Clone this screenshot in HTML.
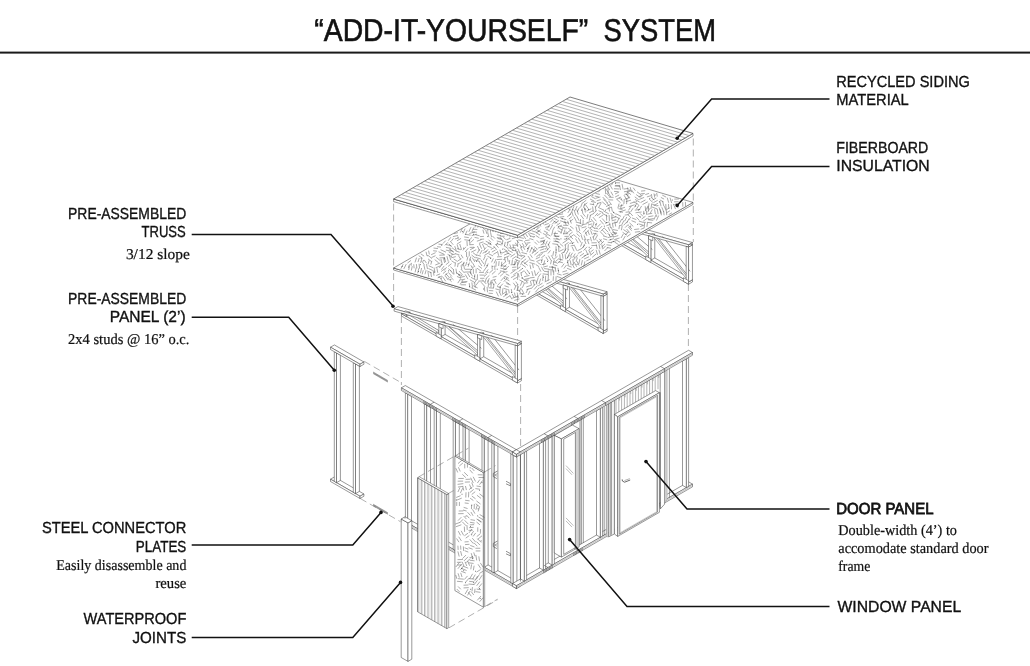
<!DOCTYPE html>
<html><head><meta charset="utf-8"><title>Add-It-Yourself System</title>
<style>
html,body{margin:0;padding:0;background:#fff;}
body{width:1030px;height:666px;overflow:hidden;position:relative;}
svg{position:absolute;left:0;top:0;display:block;will-change:transform;}
text{text-rendering:geometricPrecision;}
.s{font-family:"Liberation Sans",sans-serif;fill:#111;stroke:#111;stroke-width:0.35px;}
.t{stroke-width:0.6px;}
.b{stroke-width:0.75px;}
.f{font-family:"Liberation Serif",serif;fill:#111;stroke:#111;stroke-width:0.22px;}
</style></head><body>
<svg width="1030" height="666" viewBox="0 0 1030 666">
<polygon points="401.4,519.4 516.4,585.8 520.3,583.55 405.3,517.15" fill="#fff" stroke="#333" stroke-width="0.5"/>
<polygon points="401.4,519.4 516.4,585.8 516.4,588.5 401.4,522.1" fill="#fff" stroke="#333" stroke-width="0.5"/>
<line x1="401.4" y1="520.75" x2="516.4" y2="587.15" stroke="#666" stroke-width="0.4"/>
<polygon points="516.4,585.8 520.3,583.55 520.3,586.25 516.4,588.5" fill="#fff" stroke="#333" stroke-width="0.5"/>
<polygon points="407.6,394.08 411.5,396.33 411.5,520.73 407.6,522.98" fill="#fff" stroke="#333" stroke-width="0.5"/>
<polygon points="405.4,392.81 407.6,394.08 407.6,522.98 405.4,521.71" fill="#fff" stroke="#333" stroke-width="0.5"/>
<polygon points="426.6,405.05 430.5,407.3 430.5,531.7 426.6,533.95" fill="#fff" stroke="#333" stroke-width="0.5"/>
<polygon points="424.4,403.78 426.6,405.05 426.6,533.95 424.4,532.68" fill="#fff" stroke="#333" stroke-width="0.5"/>
<polygon points="436.4,410.71 440.3,412.96 440.3,537.36 436.4,539.61" fill="#fff" stroke="#333" stroke-width="0.5"/>
<polygon points="434.2,409.44 436.4,410.71 436.4,539.61 434.2,538.34" fill="#fff" stroke="#333" stroke-width="0.5"/>
<polygon points="455.4,421.68 459.3,423.93 459.3,548.33 455.4,550.58" fill="#fff" stroke="#333" stroke-width="0.5"/>
<polygon points="453.2,420.41 455.4,421.68 455.4,550.58 453.2,549.31" fill="#fff" stroke="#333" stroke-width="0.5"/>
<polygon points="465.2,427.34 469.1,429.59 469.1,553.99 465.2,556.24" fill="#fff" stroke="#333" stroke-width="0.5"/>
<polygon points="463,426.07 465.2,427.34 465.2,556.24 463,554.97" fill="#fff" stroke="#333" stroke-width="0.5"/>
<polygon points="484.2,438.31 488.1,440.56 488.1,564.96 484.2,567.21" fill="#fff" stroke="#333" stroke-width="0.5"/>
<polygon points="482,437.04 484.2,438.31 484.2,567.21 482,565.94" fill="#fff" stroke="#333" stroke-width="0.5"/>
<polygon points="494,443.97 497.9,446.22 497.9,570.62 494,572.87" fill="#fff" stroke="#333" stroke-width="0.5"/>
<polygon points="491.8,442.7 494,443.97 494,572.87 491.8,571.6" fill="#fff" stroke="#333" stroke-width="0.5"/>
<polygon points="513,454.94 516.9,457.19 516.9,581.59 513,583.84" fill="#fff" stroke="#333" stroke-width="0.5"/>
<polygon points="510.8,453.67 513,454.94 513,583.84 510.8,582.57" fill="#fff" stroke="#333" stroke-width="0.5"/>
<polyline points="497.5,471 493.3,473.4 493.3,476.6 496.9,478.6" fill="none" stroke="#444" stroke-width="0.6"/>
<polyline points="497.5,473.6 494.9,475 496.9,476.2" fill="none" stroke="#555" stroke-width="0.5"/>
<polyline points="497.5,541 493.3,543.4 493.3,546.6 496.9,548.6" fill="none" stroke="#444" stroke-width="0.6"/>
<polyline points="497.5,543.6 494.9,545 496.9,546.2" fill="none" stroke="#555" stroke-width="0.5"/>
<polyline points="506,481.2 510.4,483.6 510.4,485.8 506,483.8" fill="none" stroke="#444" stroke-width="0.6"/>
<polyline points="506,551.2 510.4,553.6 510.4,555.8 506,553.8" fill="none" stroke="#444" stroke-width="0.6"/>
<polygon points="516.4,585.8 692.5,484.12 688.6,481.87 512.5,583.55" fill="#fff" stroke="#333" stroke-width="0.5"/>
<polygon points="516.4,585.8 692.5,484.12 692.5,486.82 516.4,588.5" fill="#fff" stroke="#333" stroke-width="0.5"/>
<line x1="516.4" y1="587.15" x2="692.5" y2="485.47" stroke="#666" stroke-width="0.4"/>
<polygon points="516.4,585.8 512.5,583.55 512.5,586.25 516.4,588.5" fill="#fff" stroke="#333" stroke-width="0.5"/>
<polygon points="524.4,452.28 520.5,454.53 520.5,578.93 524.4,581.18" fill="#fff" stroke="#333" stroke-width="0.5"/>
<polygon points="524.4,452.28 526.6,451.01 526.6,579.91 524.4,581.18" fill="#fff" stroke="#333" stroke-width="0.5"/>
<polygon points="543.4,441.31 539.5,443.56 539.5,567.96 543.4,570.21" fill="#fff" stroke="#333" stroke-width="0.5"/>
<polygon points="543.4,441.31 545.6,440.04 545.6,568.94 543.4,570.21" fill="#fff" stroke="#333" stroke-width="0.5"/>
<polygon points="552.2,436.23 548.3,438.48 548.3,562.88 552.2,565.13" fill="#fff" stroke="#333" stroke-width="0.5"/>
<polygon points="552.2,436.23 554.4,434.96 554.4,563.86 552.2,565.13" fill="#fff" stroke="#333" stroke-width="0.5"/>
<polygon points="600.4,408.4 596.5,410.65 596.5,535.05 600.4,537.3" fill="#fff" stroke="#333" stroke-width="0.5"/>
<polygon points="600.4,408.4 602.6,407.13 602.6,536.03 600.4,537.3" fill="#fff" stroke="#333" stroke-width="0.5"/>
<polygon points="686.4,358.74 682.5,360.99 682.5,485.39 686.4,487.64" fill="#fff" stroke="#333" stroke-width="0.5"/>
<polygon points="686.4,358.74 688.6,357.47 688.6,486.37 686.4,487.64" fill="#fff" stroke="#333" stroke-width="0.5"/>
<line x1="520.4" y1="454.59" x2="520.4" y2="581.49" stroke="#333" stroke-width="0.5"/>
<polygon points="606.4,404.93 664.5,371.39 664.5,500.29 606.4,533.83" fill="#fff" stroke="#333" stroke-width="0.5"/>
<line x1="607.6" y1="404.24" x2="607.6" y2="418.84" stroke="#555" stroke-width="0.45"/>
<line x1="608.4" y1="403.78" x2="608.4" y2="406.98" stroke="#666" stroke-width="0.4"/>
<line x1="610.4" y1="402.62" x2="610.4" y2="417.22" stroke="#555" stroke-width="0.45"/>
<line x1="613.2" y1="401.01" x2="613.2" y2="415.61" stroke="#555" stroke-width="0.45"/>
<line x1="614" y1="400.55" x2="614" y2="403.75" stroke="#666" stroke-width="0.4"/>
<line x1="616" y1="399.39" x2="616" y2="413.48" stroke="#555" stroke-width="0.45"/>
<line x1="618.8" y1="397.77" x2="618.8" y2="411.86" stroke="#555" stroke-width="0.45"/>
<line x1="619.6" y1="397.31" x2="619.6" y2="400.51" stroke="#666" stroke-width="0.4"/>
<line x1="621.6" y1="396.16" x2="621.6" y2="410.24" stroke="#555" stroke-width="0.45"/>
<line x1="624.4" y1="394.54" x2="624.4" y2="408.63" stroke="#555" stroke-width="0.45"/>
<line x1="625.2" y1="394.08" x2="625.2" y2="397.28" stroke="#666" stroke-width="0.4"/>
<line x1="627.2" y1="392.92" x2="627.2" y2="407.01" stroke="#555" stroke-width="0.45"/>
<line x1="630" y1="391.31" x2="630" y2="405.39" stroke="#555" stroke-width="0.45"/>
<line x1="630.8" y1="390.85" x2="630.8" y2="394.05" stroke="#666" stroke-width="0.4"/>
<line x1="632.8" y1="389.69" x2="632.8" y2="403.78" stroke="#555" stroke-width="0.45"/>
<line x1="635.6" y1="388.07" x2="635.6" y2="402.16" stroke="#555" stroke-width="0.45"/>
<line x1="636.4" y1="387.61" x2="636.4" y2="390.81" stroke="#666" stroke-width="0.4"/>
<line x1="638.4" y1="386.46" x2="638.4" y2="400.54" stroke="#555" stroke-width="0.45"/>
<line x1="641.2" y1="384.84" x2="641.2" y2="398.93" stroke="#555" stroke-width="0.45"/>
<line x1="642" y1="384.38" x2="642" y2="387.58" stroke="#666" stroke-width="0.4"/>
<line x1="644" y1="383.22" x2="644" y2="397.31" stroke="#555" stroke-width="0.45"/>
<line x1="646.8" y1="381.61" x2="646.8" y2="395.69" stroke="#555" stroke-width="0.45"/>
<line x1="647.6" y1="381.15" x2="647.6" y2="384.35" stroke="#666" stroke-width="0.4"/>
<line x1="649.6" y1="379.99" x2="649.6" y2="394.08" stroke="#555" stroke-width="0.45"/>
<line x1="652.4" y1="378.37" x2="652.4" y2="392.46" stroke="#555" stroke-width="0.45"/>
<line x1="653.2" y1="377.91" x2="653.2" y2="381.11" stroke="#666" stroke-width="0.4"/>
<line x1="655.2" y1="376.76" x2="655.2" y2="390.84" stroke="#555" stroke-width="0.45"/>
<line x1="658" y1="375.14" x2="658" y2="389.23" stroke="#555" stroke-width="0.45"/>
<line x1="658.8" y1="374.68" x2="658.8" y2="377.88" stroke="#666" stroke-width="0.4"/>
<line x1="660.8" y1="373.52" x2="660.8" y2="387.61" stroke="#555" stroke-width="0.45"/>
<polygon points="606.4,404.93 608.7,403.61 608.7,536.81 606.4,536.93" fill="#d2d2d2" stroke="#888" stroke-width="0.35"/>
<polygon points="608.7,403.61 614.4,400.31 614.4,534 608.7,536.81" fill="#fff" stroke="#333" stroke-width="0.5"/>
<line x1="610.3" y1="402.68" x2="610.3" y2="535.48" stroke="#333" stroke-width="0.5"/>
<line x1="611.6" y1="401.93" x2="611.6" y2="534.73" stroke="#333" stroke-width="0.5"/>
<polygon points="660.2,373.87 664.6,371.33 664.6,504.13 660.2,509.07" fill="#fff" stroke="#333" stroke-width="0.5"/>
<polygon points="664.6,371.33 667.2,369.83 667.2,499.23 664.6,502.23" fill="#d2d2d2" stroke="#888" stroke-width="0.35"/>
<polygon points="614.4,414.4 655.6,390.6 659.4,392.7 617.7,416.8" fill="#fff" stroke="#333" stroke-width="0.5"/>
<polygon points="614.4,414.4 617.7,416.8 617.7,536.4 614.4,534" fill="#fff" stroke="#333" stroke-width="0.5"/>
<polygon points="617.7,416.8 659.4,392.7 659.4,512.3 617.7,536.4" fill="#fff" stroke="#333" stroke-width="0.5"/>
<line x1="660.2" y1="392.3" x2="660.2" y2="508.3" stroke="#333" stroke-width="0.5"/>
<polygon points="619.3,417.28 657.5,395.22 657.5,512.12 619.3,534.18" fill="#fff" stroke="#333" stroke-width="0.5"/>
<polygon points="620.2,417.76 656.6,396.74 656.6,511.74 620.2,532.76" fill="#fff" stroke="#777" stroke-width="0.4"/>
<polyline points="622.2,479.4 622.4,481 624.6,482.2 630.2,480" fill="none" stroke="#444" stroke-width="0.8"/>
<polyline points="624.4,480.6 629.8,478.6" fill="none" stroke="#666" stroke-width="0.5"/>
<polygon points="554.3,435.4 572.3,425 579.1,428.7 561.4,438.9" fill="#fff" stroke="#333" stroke-width="0.5"/>
<polygon points="554.3,435.4 561.4,438.9 561.4,557.1 554.3,553" fill="#fff" stroke="#333" stroke-width="0.5"/>
<polygon points="561.4,438.9 579.1,428.7 579.1,546.9 561.4,557.1" fill="#fff" stroke="#333" stroke-width="0.5"/>
<polygon points="575.5,430.96 578.5,429.23 578.5,547.03 575.5,548.76" fill="#d2d2d2" stroke="#aaa" stroke-width="0.3"/>
<polygon points="563.7,439.17 575.4,432.42 575.4,547.62 563.7,554.37" fill="#fff" stroke="#333" stroke-width="0.5"/>
<line x1="566" y1="465.6" x2="573.4" y2="473.4" stroke="#777" stroke-width="0.5"/>
<line x1="566" y1="468.6" x2="572" y2="474.8" stroke="#777" stroke-width="0.5"/>
<line x1="566" y1="517.9" x2="573.4" y2="525.7" stroke="#777" stroke-width="0.5"/>
<line x1="566" y1="520.9" x2="572" y2="527.1" stroke="#777" stroke-width="0.5"/>
<line x1="580" y1="420.18" x2="580" y2="544.58" stroke="#333" stroke-width="0.5"/>
<line x1="581.4" y1="419.37" x2="581.4" y2="543.77" stroke="#333" stroke-width="0.5"/>
<line x1="583.3" y1="418.27" x2="583.3" y2="542.67" stroke="#333" stroke-width="0.5"/>
<line x1="604.2" y1="406.2" x2="604.2" y2="535.1" stroke="#333" stroke-width="0.5"/>
<line x1="669.4" y1="368.56" x2="669.4" y2="497.46" stroke="#333" stroke-width="0.5"/>
<polygon points="401.4,387.8 516.4,454.2 520.3,451.95 405.3,385.55" fill="#fff" stroke="#333" stroke-width="0.5"/>
<polygon points="401.4,387.8 516.4,454.2 516.4,456.9 401.4,390.5" fill="#fff" stroke="#333" stroke-width="0.5"/>
<polygon points="516.4,454.2 520.3,451.95 520.3,454.65 516.4,456.9" fill="#fff" stroke="#333" stroke-width="0.5"/>
<line x1="401.4" y1="389.15" x2="516.4" y2="455.55" stroke="#666" stroke-width="0.4"/>
<polygon points="516.4,454.2 692.5,352.52 688.6,350.27 512.5,451.95" fill="#fff" stroke="#333" stroke-width="0.5"/>
<polygon points="516.4,454.2 692.5,352.52 692.5,355.22 516.4,456.9" fill="#fff" stroke="#333" stroke-width="0.5"/>
<polygon points="516.4,454.2 512.5,451.95 512.5,454.65 516.4,456.9" fill="#fff" stroke="#333" stroke-width="0.5"/>
<line x1="516.4" y1="455.55" x2="692.5" y2="353.87" stroke="#666" stroke-width="0.4"/>
<polygon points="516.4,454.2 520.3,451.95 516.4,449.7 512.5,451.95" fill="#fff" stroke="#333" stroke-width="0.5"/>
<line x1="423.9" y1="400.99" x2="423.9" y2="404.09" stroke="#444" stroke-width="0.55"/>
<line x1="425.3" y1="401.8" x2="425.3" y2="404.9" stroke="#444" stroke-width="0.55"/>
<line x1="426.7" y1="402.61" x2="426.7" y2="405.71" stroke="#444" stroke-width="0.55"/>
<line x1="428.1" y1="403.42" x2="428.1" y2="406.52" stroke="#444" stroke-width="0.55"/>
<line x1="429.5" y1="404.22" x2="429.5" y2="407.32" stroke="#444" stroke-width="0.55"/>
<line x1="430.9" y1="405.03" x2="430.9" y2="408.13" stroke="#444" stroke-width="0.55"/>
<line x1="432.3" y1="405.84" x2="432.3" y2="408.94" stroke="#444" stroke-width="0.55"/>
<line x1="433.7" y1="406.65" x2="433.7" y2="409.75" stroke="#444" stroke-width="0.55"/>
<line x1="435.1" y1="407.46" x2="435.1" y2="410.56" stroke="#444" stroke-width="0.55"/>
<line x1="436.5" y1="408.27" x2="436.5" y2="411.37" stroke="#444" stroke-width="0.55"/>
<line x1="430.2" y1="404.43" x2="434.1" y2="402.18" stroke="#333" stroke-width="0.5"/>
<line x1="452.7" y1="417.62" x2="452.7" y2="420.72" stroke="#444" stroke-width="0.55"/>
<line x1="454.1" y1="418.43" x2="454.1" y2="421.53" stroke="#444" stroke-width="0.55"/>
<line x1="455.5" y1="419.24" x2="455.5" y2="422.34" stroke="#444" stroke-width="0.55"/>
<line x1="456.9" y1="420.04" x2="456.9" y2="423.14" stroke="#444" stroke-width="0.55"/>
<line x1="458.3" y1="420.85" x2="458.3" y2="423.95" stroke="#444" stroke-width="0.55"/>
<line x1="459.7" y1="421.66" x2="459.7" y2="424.76" stroke="#444" stroke-width="0.55"/>
<line x1="461.1" y1="422.47" x2="461.1" y2="425.57" stroke="#444" stroke-width="0.55"/>
<line x1="462.5" y1="423.28" x2="462.5" y2="426.38" stroke="#444" stroke-width="0.55"/>
<line x1="463.9" y1="424.09" x2="463.9" y2="427.19" stroke="#444" stroke-width="0.55"/>
<line x1="465.3" y1="424.89" x2="465.3" y2="427.99" stroke="#444" stroke-width="0.55"/>
<line x1="459" y1="421.06" x2="462.9" y2="418.81" stroke="#333" stroke-width="0.5"/>
<line x1="481.5" y1="434.25" x2="481.5" y2="437.35" stroke="#444" stroke-width="0.55"/>
<line x1="482.9" y1="435.06" x2="482.9" y2="438.16" stroke="#444" stroke-width="0.55"/>
<line x1="484.3" y1="435.87" x2="484.3" y2="438.97" stroke="#444" stroke-width="0.55"/>
<line x1="485.7" y1="436.67" x2="485.7" y2="439.77" stroke="#444" stroke-width="0.55"/>
<line x1="487.1" y1="437.48" x2="487.1" y2="440.58" stroke="#444" stroke-width="0.55"/>
<line x1="488.5" y1="438.29" x2="488.5" y2="441.39" stroke="#444" stroke-width="0.55"/>
<line x1="489.9" y1="439.1" x2="489.9" y2="442.2" stroke="#444" stroke-width="0.55"/>
<line x1="491.3" y1="439.91" x2="491.3" y2="443.01" stroke="#444" stroke-width="0.55"/>
<line x1="492.7" y1="440.72" x2="492.7" y2="443.82" stroke="#444" stroke-width="0.55"/>
<line x1="494.1" y1="441.52" x2="494.1" y2="444.62" stroke="#444" stroke-width="0.55"/>
<line x1="487.8" y1="437.69" x2="491.7" y2="435.44" stroke="#333" stroke-width="0.5"/>
<line x1="541.7" y1="439.79" x2="541.7" y2="442.89" stroke="#444" stroke-width="0.55"/>
<line x1="543.1" y1="438.98" x2="543.1" y2="442.08" stroke="#444" stroke-width="0.55"/>
<line x1="544.5" y1="438.18" x2="544.5" y2="441.28" stroke="#444" stroke-width="0.55"/>
<line x1="545.9" y1="437.37" x2="545.9" y2="440.47" stroke="#444" stroke-width="0.55"/>
<line x1="547.3" y1="436.56" x2="547.3" y2="439.66" stroke="#444" stroke-width="0.55"/>
<line x1="548.7" y1="435.75" x2="548.7" y2="438.85" stroke="#444" stroke-width="0.55"/>
<line x1="550.1" y1="434.94" x2="550.1" y2="438.04" stroke="#444" stroke-width="0.55"/>
<line x1="551.5" y1="434.13" x2="551.5" y2="437.23" stroke="#444" stroke-width="0.55"/>
<line x1="552.9" y1="433.32" x2="552.9" y2="436.42" stroke="#444" stroke-width="0.55"/>
<line x1="554.3" y1="432.52" x2="554.3" y2="435.62" stroke="#444" stroke-width="0.55"/>
<line x1="548" y1="435.95" x2="544.1" y2="433.7" stroke="#333" stroke-width="0.5"/>
<line x1="543.8" y1="570.18" x2="543.8" y2="573.28" stroke="#444" stroke-width="0.55"/>
<line x1="545.2" y1="569.37" x2="545.2" y2="572.47" stroke="#444" stroke-width="0.55"/>
<line x1="546.6" y1="568.56" x2="546.6" y2="571.66" stroke="#444" stroke-width="0.55"/>
<line x1="548" y1="567.75" x2="548" y2="570.85" stroke="#444" stroke-width="0.55"/>
<line x1="549.4" y1="566.95" x2="549.4" y2="570.05" stroke="#444" stroke-width="0.55"/>
<line x1="550.8" y1="566.14" x2="550.8" y2="569.24" stroke="#444" stroke-width="0.55"/>
<line x1="552.2" y1="565.33" x2="552.2" y2="568.43" stroke="#444" stroke-width="0.55"/>
<line x1="548" y1="567.55" x2="544.1" y2="565.3" stroke="#333" stroke-width="0.5"/>
<line x1="571.7" y1="422.47" x2="571.7" y2="425.57" stroke="#444" stroke-width="0.55"/>
<line x1="573.1" y1="421.66" x2="573.1" y2="424.76" stroke="#444" stroke-width="0.55"/>
<line x1="574.5" y1="420.85" x2="574.5" y2="423.95" stroke="#444" stroke-width="0.55"/>
<line x1="575.9" y1="420.04" x2="575.9" y2="423.14" stroke="#444" stroke-width="0.55"/>
<line x1="577.3" y1="419.24" x2="577.3" y2="422.34" stroke="#444" stroke-width="0.55"/>
<line x1="578.7" y1="418.43" x2="578.7" y2="421.53" stroke="#444" stroke-width="0.55"/>
<line x1="580.1" y1="417.62" x2="580.1" y2="420.72" stroke="#444" stroke-width="0.55"/>
<line x1="581.5" y1="416.81" x2="581.5" y2="419.91" stroke="#444" stroke-width="0.55"/>
<line x1="582.9" y1="416" x2="582.9" y2="419.1" stroke="#444" stroke-width="0.55"/>
<line x1="584.3" y1="415.19" x2="584.3" y2="418.29" stroke="#444" stroke-width="0.55"/>
<line x1="578" y1="418.63" x2="574.1" y2="416.38" stroke="#333" stroke-width="0.5"/>
<line x1="573.8" y1="552.86" x2="573.8" y2="555.96" stroke="#444" stroke-width="0.55"/>
<line x1="575.2" y1="552.05" x2="575.2" y2="555.15" stroke="#444" stroke-width="0.55"/>
<line x1="576.6" y1="551.24" x2="576.6" y2="554.34" stroke="#444" stroke-width="0.55"/>
<line x1="578" y1="550.43" x2="578" y2="553.53" stroke="#444" stroke-width="0.55"/>
<line x1="579.4" y1="549.62" x2="579.4" y2="552.72" stroke="#444" stroke-width="0.55"/>
<line x1="580.8" y1="548.82" x2="580.8" y2="551.92" stroke="#444" stroke-width="0.55"/>
<line x1="582.2" y1="548.01" x2="582.2" y2="551.11" stroke="#444" stroke-width="0.55"/>
<line x1="578" y1="550.23" x2="574.1" y2="547.98" stroke="#333" stroke-width="0.5"/>
<line x1="605.5" y1="402.75" x2="601.6" y2="400.5" stroke="#333" stroke-width="0.5"/>
<line x1="605.5" y1="402.75" x2="605.5" y2="405.45" stroke="#333" stroke-width="0.5"/>
<line x1="664.5" y1="368.69" x2="660.6" y2="366.44" stroke="#333" stroke-width="0.5"/>
<line x1="664.5" y1="368.69" x2="664.5" y2="371.39" stroke="#333" stroke-width="0.5"/>
<polygon points="688.54,284.25 688.54,281.95 692.44,279.7 692.44,282" fill="#fff" stroke="#333" stroke-width="0.5"/>
<polygon points="688.54,281.95 572.49,214.95 576.39,212.7 692.44,279.7" fill="#fff" stroke="#333" stroke-width="0.5"/>
<polygon points="688.54,247.05 688.54,244.75 692.44,242.5 692.44,244.8" fill="#fff" stroke="#333" stroke-width="0.5"/>
<polygon points="688.54,244.75 565.13,210.05 569.03,207.8 692.44,242.5" fill="#fff" stroke="#333" stroke-width="0.5"/>
<polygon points="612.24,237.9 612.24,225.6 616.14,223.35 616.14,235.65" fill="#fff" stroke="#333" stroke-width="0.5"/>
<polygon points="612.24,225.6 609.9,224.94 613.8,222.69 616.14,223.35" fill="#fff" stroke="#333" stroke-width="0.5"/>
<polygon points="650.87,260.2 650.87,236.46 654.77,234.21 654.77,257.95" fill="#fff" stroke="#333" stroke-width="0.5"/>
<polygon points="650.87,236.46 648.53,235.8 652.43,233.55 654.77,234.21" fill="#fff" stroke="#333" stroke-width="0.5"/>
<polygon points="688.54,281.95 688.54,247.05 692.44,244.8 692.44,279.7" fill="#fff" stroke="#333" stroke-width="0.5"/>
<polygon points="688.54,247.05 686.2,246.39 690.1,244.14 692.44,244.8" fill="#fff" stroke="#333" stroke-width="0.5"/>
<polygon points="577.26,217.7 577.26,215.76 581.15,213.51 581.15,215.45" fill="#fff" stroke="#333" stroke-width="0.5"/>
<polygon points="577.26,215.76 572.49,214.42 576.39,212.17 581.15,213.51" fill="#fff" stroke="#333" stroke-width="0.5"/>
<line x1="623.93" y1="225.54" x2="652.43" y2="249.6" stroke="#333" stroke-width="0.5"/>
<line x1="662.56" y1="236.4" x2="690.1" y2="271.35" stroke="#333" stroke-width="0.5"/>
<polygon points="579.64,215.89 609.69,234.17 609.74,231.81 579.69,213.52" fill="#fff" stroke="#333" stroke-width="0.45"/>
<polygon points="614.62,225.72 648.31,256.47 648.89,254.51 615.2,223.75" fill="#fff" stroke="#333" stroke-width="0.45"/>
<polygon points="653.25,236.58 685.99,278.22 687.06,276.79 654.32,235.14" fill="#fff" stroke="#333" stroke-width="0.45"/>
<polygon points="572.49,217.25 688.54,284.25 688.54,281.95 572.49,214.95" fill="#fff" stroke="#333" stroke-width="0.5"/>
<polygon points="565.13,212.35 688.54,247.05 688.54,244.75 565.13,210.05" fill="#fff" stroke="#333" stroke-width="0.5"/>
<polygon points="609.9,236.55 612.24,237.9 612.24,225.6 609.9,224.94" fill="#fff" stroke="#333" stroke-width="0.5"/>
<polygon points="648.53,258.85 650.87,260.2 650.87,236.46 648.53,235.8" fill="#fff" stroke="#333" stroke-width="0.5"/>
<polygon points="686.2,280.6 688.54,281.95 688.54,247.05 686.2,246.39" fill="#fff" stroke="#333" stroke-width="0.5"/>
<polygon points="572.49,214.95 577.26,217.7 577.26,215.76 572.49,214.42" fill="#fff" stroke="#333" stroke-width="0.5"/>
<line x1="620.04" y1="227.79" x2="648.53" y2="251.85" stroke="#333" stroke-width="0.5"/>
<line x1="658.66" y1="238.65" x2="686.2" y2="273.6" stroke="#333" stroke-width="0.5"/>
<polygon points="607.13,237.25 612.24,240.2 612.24,236.6 607.13,233.65" fill="#fff" stroke="#333" stroke-width="0.5"/>
<polygon points="609.9,228.14 614.15,229.9 614.15,226.13 609.9,224.94" fill="#fff" stroke="#333" stroke-width="0.5"/>
<polygon points="645.76,259.55 650.87,262.5 650.87,258.9 645.76,255.95" fill="#fff" stroke="#333" stroke-width="0.5"/>
<polygon points="648.53,239 652.77,240.76 652.77,236.99 648.53,235.8" fill="#fff" stroke="#333" stroke-width="0.5"/>
<polygon points="683.43,281.3 688.54,284.25 688.54,280.65 683.43,277.7" fill="#fff" stroke="#333" stroke-width="0.5"/>
<polygon points="603.24,333.5 603.24,331.2 607.13,328.95 607.13,331.25" fill="#fff" stroke="#333" stroke-width="0.5"/>
<polygon points="603.24,331.2 487.19,264.2 491.09,261.95 607.13,328.95" fill="#fff" stroke="#333" stroke-width="0.5"/>
<polygon points="603.24,296.3 603.24,294 607.13,291.75 607.13,294.05" fill="#fff" stroke="#333" stroke-width="0.5"/>
<polygon points="603.24,294 479.83,259.3 483.73,257.05 607.13,291.75" fill="#fff" stroke="#333" stroke-width="0.5"/>
<polygon points="526.94,287.15 526.94,274.85 530.84,272.6 530.84,284.9" fill="#fff" stroke="#333" stroke-width="0.5"/>
<polygon points="526.94,274.85 524.6,274.19 528.5,271.94 530.84,272.6" fill="#fff" stroke="#333" stroke-width="0.5"/>
<polygon points="565.56,309.45 565.56,285.71 569.46,283.46 569.46,307.2" fill="#fff" stroke="#333" stroke-width="0.5"/>
<polygon points="565.56,285.71 563.23,285.05 567.12,282.8 569.46,283.46" fill="#fff" stroke="#333" stroke-width="0.5"/>
<polygon points="603.24,331.2 603.24,296.3 607.13,294.05 607.13,328.95" fill="#fff" stroke="#333" stroke-width="0.5"/>
<polygon points="603.24,296.3 600.9,295.64 604.8,293.39 607.13,294.05" fill="#fff" stroke="#333" stroke-width="0.5"/>
<polygon points="491.95,266.95 491.95,265.01 495.85,262.76 495.85,264.7" fill="#fff" stroke="#333" stroke-width="0.5"/>
<polygon points="491.95,265.01 487.19,263.67 491.09,261.42 495.85,262.76" fill="#fff" stroke="#333" stroke-width="0.5"/>
<line x1="538.63" y1="274.79" x2="567.12" y2="298.85" stroke="#333" stroke-width="0.5"/>
<line x1="577.26" y1="285.65" x2="604.8" y2="320.6" stroke="#333" stroke-width="0.5"/>
<polygon points="494.33,265.14 524.38,283.43 524.44,281.06 494.39,262.77" fill="#fff" stroke="#333" stroke-width="0.45"/>
<polygon points="529.32,274.97 563.01,305.72 563.59,303.76 529.9,273" fill="#fff" stroke="#333" stroke-width="0.45"/>
<polygon points="567.95,285.83 600.68,327.47 601.75,326.04 569.02,284.39" fill="#fff" stroke="#333" stroke-width="0.45"/>
<polygon points="487.19,266.5 603.24,333.5 603.24,331.2 487.19,264.2" fill="#fff" stroke="#333" stroke-width="0.5"/>
<polygon points="479.83,261.6 603.24,296.3 603.24,294 479.83,259.3" fill="#fff" stroke="#333" stroke-width="0.5"/>
<polygon points="524.6,285.8 526.94,287.15 526.94,274.85 524.6,274.19" fill="#fff" stroke="#333" stroke-width="0.5"/>
<polygon points="563.23,308.1 565.56,309.45 565.56,285.71 563.23,285.05" fill="#fff" stroke="#333" stroke-width="0.5"/>
<polygon points="600.9,329.85 603.24,331.2 603.24,296.3 600.9,295.64" fill="#fff" stroke="#333" stroke-width="0.5"/>
<polygon points="487.19,264.2 491.95,266.95 491.95,265.01 487.19,263.67" fill="#fff" stroke="#333" stroke-width="0.5"/>
<line x1="534.73" y1="277.04" x2="563.23" y2="301.1" stroke="#333" stroke-width="0.5"/>
<line x1="573.36" y1="287.9" x2="600.9" y2="322.85" stroke="#333" stroke-width="0.5"/>
<polygon points="521.83,286.5 526.94,289.45 526.94,285.85 521.83,282.9" fill="#fff" stroke="#333" stroke-width="0.5"/>
<polygon points="524.6,277.39 528.84,279.15 528.84,275.38 524.6,274.19" fill="#fff" stroke="#333" stroke-width="0.5"/>
<polygon points="560.45,308.8 565.56,311.75 565.56,308.15 560.45,305.2" fill="#fff" stroke="#333" stroke-width="0.5"/>
<polygon points="563.23,288.25 567.47,290.01 567.47,286.24 563.23,285.05" fill="#fff" stroke="#333" stroke-width="0.5"/>
<polygon points="598.13,330.55 603.24,333.5 603.24,329.9 598.13,326.95" fill="#fff" stroke="#333" stroke-width="0.5"/>
<polygon points="517.5,383 517.5,380.7 521.4,378.45 521.4,380.75" fill="#fff" stroke="#333" stroke-width="0.5"/>
<polygon points="517.5,380.7 401.45,313.7 405.35,311.45 521.4,378.45" fill="#fff" stroke="#333" stroke-width="0.5"/>
<polygon points="517.5,345.8 517.5,343.5 521.4,341.25 521.4,343.55" fill="#fff" stroke="#333" stroke-width="0.5"/>
<polygon points="517.5,343.5 394.09,308.8 397.99,306.55 521.4,341.25" fill="#fff" stroke="#333" stroke-width="0.5"/>
<polygon points="441.2,336.65 441.2,324.35 445.1,322.1 445.1,334.4" fill="#fff" stroke="#333" stroke-width="0.5"/>
<polygon points="441.2,324.35 438.86,323.69 442.76,321.44 445.1,322.1" fill="#fff" stroke="#333" stroke-width="0.5"/>
<polygon points="479.83,358.95 479.83,335.21 483.73,332.96 483.73,356.7" fill="#fff" stroke="#333" stroke-width="0.5"/>
<polygon points="479.83,335.21 477.49,334.55 481.39,332.3 483.73,332.96" fill="#fff" stroke="#333" stroke-width="0.5"/>
<polygon points="517.5,380.7 517.5,345.8 521.4,343.55 521.4,378.45" fill="#fff" stroke="#333" stroke-width="0.5"/>
<polygon points="517.5,345.8 515.16,345.14 519.06,342.89 521.4,343.55" fill="#fff" stroke="#333" stroke-width="0.5"/>
<polygon points="406.22,316.45 406.22,314.51 410.11,312.26 410.11,314.2" fill="#fff" stroke="#333" stroke-width="0.5"/>
<polygon points="406.22,314.51 401.45,313.17 405.35,310.92 410.11,312.26" fill="#fff" stroke="#333" stroke-width="0.5"/>
<line x1="452.89" y1="324.29" x2="481.39" y2="348.35" stroke="#333" stroke-width="0.5"/>
<line x1="491.52" y1="335.15" x2="519.06" y2="370.1" stroke="#333" stroke-width="0.5"/>
<polygon points="408.6,314.64 438.65,332.93 438.7,330.56 408.65,312.27" fill="#fff" stroke="#333" stroke-width="0.45"/>
<polygon points="443.58,324.47 477.27,355.22 477.85,353.26 444.16,322.5" fill="#fff" stroke="#333" stroke-width="0.45"/>
<polygon points="482.21,335.33 514.95,376.97 516.02,375.54 483.28,333.89" fill="#fff" stroke="#333" stroke-width="0.45"/>
<polygon points="401.45,316 517.5,383 517.5,380.7 401.45,313.7" fill="#fff" stroke="#333" stroke-width="0.5"/>
<polygon points="394.09,311.1 517.5,345.8 517.5,343.5 394.09,308.8" fill="#fff" stroke="#333" stroke-width="0.5"/>
<polygon points="438.86,335.3 441.2,336.65 441.2,324.35 438.86,323.69" fill="#fff" stroke="#333" stroke-width="0.5"/>
<polygon points="477.49,357.6 479.83,358.95 479.83,335.21 477.49,334.55" fill="#fff" stroke="#333" stroke-width="0.5"/>
<polygon points="515.16,379.35 517.5,380.7 517.5,345.8 515.16,345.14" fill="#fff" stroke="#333" stroke-width="0.5"/>
<polygon points="401.45,313.7 406.22,316.45 406.22,314.51 401.45,313.17" fill="#fff" stroke="#333" stroke-width="0.5"/>
<line x1="449" y1="326.54" x2="477.49" y2="350.6" stroke="#333" stroke-width="0.5"/>
<line x1="487.62" y1="337.4" x2="515.16" y2="372.35" stroke="#333" stroke-width="0.5"/>
<polygon points="436.09,336 441.2,338.95 441.2,335.35 436.09,332.4" fill="#fff" stroke="#333" stroke-width="0.5"/>
<polygon points="438.86,326.89 443.11,328.65 443.11,324.88 438.86,323.69" fill="#fff" stroke="#333" stroke-width="0.5"/>
<polygon points="474.72,358.3 479.83,361.25 479.83,357.65 474.72,354.7" fill="#fff" stroke="#333" stroke-width="0.5"/>
<polygon points="477.49,337.75 481.73,339.51 481.73,335.74 477.49,334.55" fill="#fff" stroke="#333" stroke-width="0.5"/>
<polygon points="512.39,380.05 517.5,383 517.5,379.4 512.39,376.45" fill="#fff" stroke="#333" stroke-width="0.5"/>
<polygon points="393.6,268 517.6,304.2 517.6,306.2 393.6,270" fill="#fff" stroke="#333" stroke-width="0.5"/>
<polygon points="517.6,304.2 693,202.4 693,204.4 517.6,306.2" fill="#fff" stroke="#333" stroke-width="0.5"/>
<line x1="393.6" y1="268" x2="517.6" y2="304.2" stroke="#333" stroke-width="0.5"/>
<polygon points="393.6,268 570,166 693,202.4 517.6,304.2" fill="#fff" stroke="#333" stroke-width="0.5"/>
<path d="M406.28 264.11l-2.48 4.82M403.18 264.24l-2.28 4.44M412.26 266.11l-0.93 4.46M409.61 265.57l-0.93 4.45M421.62 268l-1.2 5.28M418.8 268.24l-1.14 5.04M416.16 267.68l-1.06 4.68M426.13 270.12l-1.15 4.17M423.28 270.27l-1.12 4.08M433.15 270.35l0.87 5.38M430.68 271.95l0.82 5.06M427.96 272.03l0.8 4.92M442.03 276.03l-4.28 1.76M440.14 273.89l-3.87 1.6M445.23 275.74l2.99 4.38M442.47 276.48l3.25 4.78M439.98 277.63l3.11 4.56M450.02 276.43l3.6 3.55M447.96 278.2l3.7 3.64M462.92 280.14l-2.78 4.3M460.61 278.75l-2.82 4.36M461.79 282.07l4.71 0.06M460.69 284.76l5.3 0.07M474.6 282.62l0.7 5.12M471.85 282.39l0.74 5.4M469.21 283.02l0.65 4.74M473.24 285.7l4.43 2.28M471.27 287.72l4.76 2.45M487.09 286.94l0.43 5.3M484.35 286.58l0.39 4.85M488.62 287.78l5.08 0.37M488.85 290.5l4.44 0.32M488.58 293.19l4.23 0.31M499.17 291.49l2.07 4.24M496.23 291.64l2.3 4.72M510.11 295.64l-4.45 2.86M508.18 293.67l-4.94 3.17M506.39 291.62l-4.43 2.84M512.15 293.92l1.93 3.76M509.92 295.47l1.93 3.77M519.48 298.88l-5.26 1.54M517.52 296.64l-5.4 1.58M412.02 262.97l-3.53 2.75M410.98 260.36l-3.54 2.76M419.08 263.76l0.52 4.79M416.4 264.09l0.46 4.18M413.71 264.31l0.43 3.97M426.49 264.13l1.04 4.93M423.88 264.83l1.04 4.91M428.73 265.76l4.34 1.9M428.39 268.56l4.19 1.83M427.29 271.02l4.26 1.86M436.9 268.21l0.87 4.54M434.01 267.46l0.96 5.06M447.63 273.18l-2.9 2.45M446.14 270.89l-3.19 2.7M444.64 268.63l-3.51 2.97M450.24 270.35l3.47 4.12M448.42 272.39l3.43 4.07M446.83 274.68l2.99 3.55M457.69 273.78l4.44 2.04M456.94 276.4l4 1.84M467.36 281.43l-5.42 1.04M465.18 279.1l-4.69 0.9M464.8 276.42l-4.89 0.94M471.02 277.32l4.78 2.66M469.82 279.74l4.43 2.46M478.67 281.68l-2.76 3.72M477.18 279.16l-3.05 4.11M482.33 279.67l3.86 4.26M480.98 282.2l3.94 4.35M494.01 283.73l-0.52 4.48M491.48 282.07l-0.59 5.14M488.69 282.68l-0.52 4.46M496.96 286.48l4.05 1.09M495.4 288.85l4.14 1.11M502.87 288.35l-0.44 5.18M500.32 286.46l-0.51 6M511.26 288.99l0.67 3.87M508.57 289.3l0.67 3.87M506 290.26l0.75 4.38M517.2 292.52l1.15 5.32M514.45 292.59l0.98 4.51M526.07 296.3l-5.49 0.18M524.48 293.65l-5.26 0.17M421.81 258.9l-1.29 4.01M419.27 258l-1.32 4.12M416.55 257.62l-1.54 4.8M424.21 259.88l2.25 3.3M421.77 261.09l2.57 3.76M431.85 260.84l-1.06 3.78M429.17 260.41l-1.13 4.04M440.53 265.82l-4.86 1.94M440.25 263.03l-5 1.99M446.58 267.18l-2.57 3.51M444.19 265.87l-2.74 3.74M441.96 264.35l-2.61 3.57M450.41 266.79l3.47 3.06M448.49 268.7l3.12 2.75M455.95 268.67l0.71 5.21M453.35 269.55l0.64 4.67M460.84 269.04l3.63 4M459.01 271.05l3.78 4.17M456.58 272.38l3.83 4.23M469.94 271.78l2.67 4.57M467.52 273l2.37 4.06M465.22 274.41l2.73 4.67M477.53 274.34l-0.28 5.33M474.83 274.22l-0.24 4.6M483.52 280.98l-5.15 0.09M484.39 278.27l-4.27 0.07M491.41 280.17l-1.62 4.83M489.22 278.21l-1.69 5.03M486.38 278.18l-1.39 4.13M494.3 280.07l1.95 3.66M491.91 281.32l1.99 3.72M502.94 283.66l-3.55 3.79M500.53 282.28l-3.1 3.3M506.46 283.56l4.08 1.35M504.47 285.74l4.33 1.43M503.57 288.29l4.2 1.39M521.1 287.57l-1.77 4.07M518.7 286.31l-1.95 4.47M516.26 285.16l-2.03 4.66M521.39 288.73l2.2 4.11M518.85 289.72l2 3.74M530.02 290.92l-1.93 3.99M528.16 288.58l-2.1 4.36M420.68 253.77l3.47 2.4M418.71 255.68l3.86 2.67M428.49 255.8l3.48 2.7M428.04 258.87l3.35 2.6M436.17 257.34l4.37 3.52M434.69 259.61l4.05 3.27M443.53 258.14l1.17 4.87M440.94 258.94l1.41 5.89M451.55 263.63l-3.53 2.86M449.34 261.94l-3.56 2.88M458.21 262.97l-0.68 4.15M455.58 262.33l-0.7 4.28M463.65 264.76l0.92 4.61M461.03 265.43l0.79 3.98M470.4 271.96l-5.99 0.07M470.24 269.26l-5.2 0.06M476.09 268.48l0.03 4.77M473.39 268.96l0.03 4.93M470.69 268.91l0.03 5.29M478.98 272.34l4.86 0.1M479.6 275.05l4.99 0.11M489.38 275.34l-3.21 3.01M487.17 273.7l-3.13 2.93M495.86 279.3l-3.97 0.99M496.6 276.33l-3.89 0.97M507.18 277.87l-3.4 3.8M504.75 276.53l-3.86 4.3M505.82 278.79l3.6 2.12M505.5 281.74l3.72 2.19M515.72 281.55l2.25 3.28M513.28 282.77l2.38 3.48M524.23 283.47l-1.92 4.37M522.23 281.3l-1.93 4.39M531.38 288.12l-4.87 1.61M530.88 285.44l-4.67 1.54M539.19 287.67l-3.85 4.6M537.46 285.52l-3.29 3.94M535.21 284.01l-3.86 4.61M428.55 250.65l0.84 3.77M426.04 251.78l0.9 4.04M435.57 255.66l-3.83 1.78M435.59 252.67l-4.46 2.08M444.52 257.64l-5.04 0.31M444.88 254.91l-5.55 0.34M449.3 254.74l1.41 5.28M446.88 256.14l1.48 5.54M444.35 257.11l1.34 5M453.62 258.91l3.7 2.44M451.46 260.72l3.56 2.35M464.74 262.82l-3.53 2.42M462.19 261.29l-3.73 2.56M461.3 258.63l-3.85 2.65M469.47 262.53l-1.38 4.21M466.87 261.81l-1.4 4.3M464.02 261.85l-1.42 4.35M472.79 263.18l2.18 3.97M470.82 265.21l2 3.63M478.32 265.79l3.61 2.68M476.94 268.12l4 2.97M488.22 269.33l-3.15 4.46M486.69 266.81l-3.38 4.8M495.62 271.03l-3.69 3.32M493.17 269.6l-3.71 3.34M503.38 273.45l-3.25 2.81M500.99 271.95l-2.86 2.47M505.72 273.88l3.54 1.75M504.53 276.3l4.14 2.04M517.42 277.13l-4.36 2.44M515.66 275.02l-4.72 2.64M521.06 277.7l4.11 2.27M519.38 279.85l4.47 2.46M528.13 282.79l-4.42 0.41M528.76 280.02l-4.5 0.42M535.81 280.31l1.08 4.23M533.26 281.25l1.04 4.05M530.35 280.75l1.24 4.83M543.73 285.56l-4.04 2.58M542.49 283.15l-4.34 2.77M433.54 248.03l4.48 0.58M433.18 250.71l3.81 0.49M440.59 249.72l5.43 2.47M438.59 251.78l5.61 2.56M449.01 248.93l4.6 2.63M448.73 251.88l4.4 2.51M447.52 254.31l4.52 2.58M455.82 256.62l-4.55 1.17M455.51 253.91l-4.51 1.16M461.04 254.7l2.06 3.44M458.39 255.52l2.33 3.87M470.76 256.54l-1.21 4.71M468.01 256.42l-1.09 4.24M472.24 257.6l2.55 4.34M469.78 258.75l2.59 4.41M481.02 259.76l2.76 4.14M479.09 261.74l2.84 4.26M488.18 263.45l-1.4 3.79M485.59 262.67l-1.4 3.79M494.64 265.62l0.34 4.34M491.92 265.57l0.3 3.75M500.82 265.52l5.43 0.97M500.39 268.18l5.36 0.96M499.96 270.85l4.94 0.88M507.48 271.54l-4.39 1.25M507.04 268.86l-3.73 1.06M517.51 272.04l-4.17 2.77M514.82 270.58l-4.26 2.83M520.87 272.34l0.78 3.87M518.32 273.37l0.8 3.95M530.16 278.05l-5.08 1.22M529.4 275.45l-5.34 1.28M535.21 280l-3.93 0.43M534.6 277.35l-4.56 0.5M540.75 278.6l-1.78 5.4M538.22 277.65l-1.88 5.72M551.8 281.53l-5.4 2.59M549.56 279.62l-4.85 2.33M438.48 244.14l4.12 0.43M437.1 246.71l3.82 0.4M445.8 244.54l5.64 1.18M445.94 247.33l5.31 1.11M445.87 250.07l5.42 1.14M452.03 247.77l3.6 2.67M450.14 249.73l3.61 2.68M456.85 248.49l4.16 1.32M455.66 250.94l4 1.27M455.02 253.57l4.43 1.41M469.29 251.31l-0.06 4.93M466.58 251.72l-0.06 5.34M472.88 252.56l3.81 3.08M471.54 254.95l3.68 2.98M476.03 254.71l5.04 1.56M475.29 257.31l5.42 1.68M474.3 259.82l5.55 1.72M487.26 258.2l-2.04 4.47M485.34 255.9l-1.94 4.24M496.11 259.05l-2.14 4.33M493.4 258.43l-1.91 3.87M501.77 261.78l-0.5 5.02M499.12 261.12l-0.48 4.8M496.38 261.38l-0.54 5.39M508.88 266.17l-3.49 3.01M506.63 264.55l-3.39 2.93M505.48 261.98l-3.58 3.09M516.3 269.77l-4.25 0.34M516.41 267.05l-4.28 0.34M515.44 264.42l-4.83 0.38M524.32 270.51l-3.34 2.51M521.95 268.91l-3.47 2.61M520.44 266.67l-3.62 2.72M526.74 269.64l2.54 3.41M524.56 271.23l2.83 3.8M534.36 270.34l1.36 5.36M531.78 271.15l1.27 5.04M540.79 273.58l-2.77 3.8M538.88 271.62l-2.85 3.91M548.44 274.84l-0.32 5.66M545.68 275.8l-0.31 5.34M543.03 274.82l-0.35 6.05M556.13 276.24l-0.3 5M553.43 276.22l-0.29 4.77M447.88 242.29l-2.99 3.14M445.74 240.61l-2.81 2.95M450.27 241.24l3.01 3.51M448.87 243.76l2.86 3.33M459.73 243.99l1.88 5.81M457.04 244.47l1.58 4.88M454.72 246.07l1.54 4.77M468.27 248.2l-3.18 3.83M465.9 246.83l-2.95 3.55M476.19 249.68l-5.09 2.58M474.72 247.4l-4.58 2.32M482.19 249.95l-2.32 4.4M479.56 249.15l-2.18 4.14M489.14 252.57l-4.85 2.91M486.66 250.91l-4.03 2.42M488.87 253.9l4.22 2.03M487.51 256.24l3.89 1.87M502.2 259.24l-5.42 0.39M501.76 256.56l-4.75 0.34M507.34 257.24l0.89 4.56M504.63 257.42l0.95 4.84M515.06 260.74l-0.51 4.09M512.45 259.87l-0.53 4.27M509.69 260.11l-0.5 4M522.48 260.99l-1.9 4.14M519.77 260.41l-2.35 5.12M517.06 259.85l-1.93 4.19M523.46 262.06l4.27 3.38M521.98 264.34l3.93 3.11M532.53 263.86l0.87 4.2M529.96 264.78l0.91 4.4M541.42 266.75l2.29 4.32M538.69 267.36l2.27 4.29M544.11 268.56l4.98 0.63M544.01 271.26l4.47 0.57M542.73 273.82l5.25 0.66M553.69 270.19l-0.01 5.16M550.99 270.32l-0.01 5.13M548.29 270.51l-0.01 4.7M556.93 273.61l4.67 1.54M556.91 276.44l4.57 1.51M453.44 238.35l-2.41 3.11M450.96 237.15l-2.75 3.54M461.27 241.4l-4.18 2.57M461.06 238.36l-4.13 2.53M469.52 239.59l0.38 4.89M466.92 241.01l0.39 5.05M474.1 247.24l-4.42 0.19M473.79 244.55l-4.52 0.19M482.38 243.86l2.22 4.96M479.43 243.89l2.17 4.85M477.42 246l2.1 4.67M488.1 249.35l-2.78 3.42M486.19 247.42l-2.6 3.2M497.01 252.23l-3.73 2.13M495.61 249.92l-3.81 2.18M494.73 247.31l-3.91 2.23M499.9 249.76l1.27 4.83M497.4 250.88l1.29 4.9M509.37 255.78l-5.2 2.26M508.96 253.01l-5.01 2.18M507.01 250.92l-4.95 2.15M516.14 256.34l-4 2.77M515.13 253.75l-4.62 3.19M517.99 254.7l4.19 1.98M516.22 256.85l4.18 1.98M515.1 259.31l3.96 1.88M528.45 260.45l-4.41 3.47M526.15 258.82l-4.27 3.36M524.97 256.31l-4.07 3.21M529.35 259.66l5.14 1.45M529.47 262.5l5.49 1.55M537.51 262.41l3.37 2.28M535.67 264.42l3.43 2.32M547.87 265.92l-4.68 1.16M545.92 263.62l-4.19 1.04M549 266.95l4.49 0.29M548.54 269.62l4.14 0.27M557.92 267.83l0.84 4.96M555.02 266.85l0.83 4.9M552.4 267.6l0.8 4.76M568.43 273.01l-5.65 1.64M567.09 270.58l-4.7 1.37M459.02 237.94l-4.22 1.07M457.98 235.42l-5.06 1.28M457.98 232.63l-4.09 1.04M464.97 234.32l5.66 0.84M464.12 236.93l4.7 0.7M464.38 239.69l5.6 0.83M473.93 239.32l-3.4 3.24M472.06 237.37l-3.4 3.23M483.37 241.81l-4.38 1.54M481.47 239.62l-4.58 1.61M485.69 241.2l4.87 2.29M483.4 243.11l4.52 2.12M487.98 243.38l3.66 1.39M487.53 246.1l4.11 1.56M495.47 244.17l3.04 3.47M493.46 245.97l3.32 3.79M504.12 245.61l4.45 3.48M503.68 248.7l4.15 3.24M508.57 247.3l4.99 2.79M507.74 249.93l4.85 2.71M506.55 252.36l4.78 2.67M517.87 248.7l2.36 5.01M515.47 249.95l2.16 4.58M521.52 252.5l5.56 1.41M520.36 254.99l4.83 1.23M530.07 254.32l2.35 3.42M527.93 255.98l2.16 3.14M540.51 259.78l-4.12 1.87M539.75 257.16l-4.03 1.83M544.74 260.33l-1.2 5M542.36 258.67l-1.05 4.38M554.31 260.05l-1.14 4.66M551.48 260.28l-0.97 3.96M553.04 261.75l4 1.14M553.5 264.69l3.79 1.08M551.34 266.87l4.42 1.26M566.45 265.08l-2.56 3.47M564.19 263.58l-2.74 3.71M567.4 265.47l4.29 1.72M566.93 268.19l4.53 1.82M467.16 230.61l-1.96 4.35M465.08 228.65l-2.14 4.75M462.24 228.39l-1.88 4.17M476.83 234.19l-5.18 1.46M474.95 231.91l-5.66 1.59M475.56 234.81l4.06 0.9M474.51 237.35l4.23 0.93M484.12 239.07l-3.96 0.25M483.89 236.38l-3.97 0.25M492.41 235.98l2.64 2.65M490.26 237.65l2.84 2.85M488.5 239.71l2.65 2.66M497.59 238.37l4.34 1.18M496.76 240.94l4.52 1.23M496.48 243.66l4.51 1.23M508.08 241.94l-1 4.45M505.32 241.91l-0.98 4.38M502.88 240.42l-1.1 4.91M512.68 244.53l1.34 3.98M509.81 244.47l1.33 3.93M513.13 245.08l4.17 0.29M511.68 247.69l4.12 0.28M511.94 250.41l4.45 0.3M522.72 245.99l2.18 3.88M520.37 247.32l2.29 4.07M534.46 248.43l-2.36 5.42M532.03 247.23l-2.31 5.3M529.12 247.15l-2.18 5M540.15 253.82l-3.86 3.12M538.47 251.7l-4.09 3.31M536.84 249.55l-3.81 3.07M545.02 254.95l-3.71 2.93M542.67 253.36l-3.63 2.87M551.26 255.33l2.54 4.3M548.29 255.61l2.97 5.02M545.89 256.85l2.45 4.14M561.39 260.01l-4.09 3.52M559.1 258.41l-3.75 3.24M557.49 256.23l-3.42 2.95M559 259.11l4.09 0.89M558.63 261.79l4.25 0.93M572.73 259.28l1.06 5.57M570.19 260.39l0.92 4.86M567.4 260.13l0.99 5.18M576.75 261.1l2.36 4.41M574.17 262.01l2.57 4.79M572.05 263.76l2.38 4.44M473.79 227.49l-1.9 4.15M471 227.11l-2.16 4.73M472.87 229.25l4.47 0.22M472.32 231.93l4.56 0.22M485.64 229.64l1.2 4.19M482.89 229.83l1.09 3.79M490.48 232.24l1.12 5.04M487.7 232.16l1.03 4.67M496.86 234.74l4.23 0.85M496.84 237.49l4.78 0.96M502.76 236.56l2.87 2.86M499.95 237.58l3.35 3.33M511.28 240.84l-4.41 1.64M510.4 238.29l-4.03 1.5M516.35 240.33l2.82 2.7M514.93 242.71l3.09 2.97M524.28 241.22l2.24 3.95M522.25 243.11l1.97 3.47M519.76 244.2l1.99 3.51M530.04 245.27l-2.84 3.75M527.78 243.78l-2.65 3.5M534.27 246.62l3.4 2.75M532.44 248.61l3.64 2.95M545.51 251.35l-5.18 1.69M544.54 248.82l-4.85 1.58M543.66 246.27l-5.5 1.79M550.58 250.32l-2.64 3.22M548.95 248.05l-3.13 3.83M556.36 251.64l-0.96 4.84M553.71 251.11l-0.93 4.72M565.18 254.35l0.55 4.94M562.4 253.79l0.54 4.82M559.75 254.35l0.62 5.57M571.8 256.4l-3.56 4.93M569.68 254.73l-3.12 4.31M577.44 257.56l-1.44 4.06M575.02 256.29l-1.42 4M584.91 261.4l-1.11 4.95M582.43 260.13l-1.17 5.23M579.94 258.9l-1.13 5.05M481.63 223.73l-1.02 3.71M478.81 223.81l-1.04 3.8M476.22 223.05l-1.17 4.28M484.42 225.34l2.91 3.54M481.69 226.27l2.95 3.59M493.31 226.36l-0.14 5.16M490.58 227.31l-0.13 4.72M487.89 227.02l-0.13 4.62M498.89 228.18l-0.72 4.89M496.2 227.95l-0.63 4.28M493.56 227.29l-0.67 4.57M501.31 230.79l4.62 0.09M499.96 233.47l5.19 0.1M499.83 236.17l4.85 0.09M513.29 233.4l-4.13 3.87M510.41 232.4l-3.66 3.42M516.04 237.41l-4.14 1.41M516 234.57l-4.03 1.37M519.16 237.31l4.68 1.07M518.27 239.88l4.52 1.04M530.35 242.62l-3.89 0.53M529.69 239.99l-4.51 0.62M536.74 240.32l2.68 2.7M534.39 241.78l2.76 2.78M545.73 246.04l-4.45 1.52M544.7 243.54l-3.99 1.36M544.9 240.62l-4.45 1.51M548.01 243.76l1.82 4.17M545.86 245.58l1.92 4.4M558.72 246.56l0.09 5.31M556.01 246.29l0.08 4.78M564.64 251.75l-3.5 1.78M563.63 249.23l-4.25 2.15M570.14 252.31l-2.27 4.07M568.71 249.31l-2.77 4.97M566.16 248.35l-2.64 4.74M577.74 254.67l-2.22 3.62M575.29 253.5l-2.56 4.16M572.59 252.74l-2.5 4.07M585.95 255.22l-4.45 3M584.02 253.27l-4.22 2.85M590.93 258.85l-4.6 2.07M589.01 256.75l-4.88 2.2M588.89 253.85l-5.11 2.3M484.8 219.6l-0.42 4.47M482 220.48l-0.42 4.44M479.35 219.87l-0.42 4.46M491.31 223.04l-2.32 3.91M488.94 221.74l-2.26 3.81M486.8 220.06l-2.52 4.25M499.02 224.9l-0.87 5.43M496.34 224.56l-0.85 5.3M493.82 223.24l-0.88 5.5M508.27 226.21l1.59 3.78M505.6 226.83l1.67 3.97M503.29 228.3l1.56 3.72M517.76 230.95l-1.99 4.97M515.67 228.89l-1.94 4.85M525.24 233.45l-3.85 2.35M524.03 231.03l-3.82 2.33M528.43 233.05l2.31 3.83M525.68 233.72l2.07 3.43M523.37 235.12l2.39 3.96M530.24 235.84l3.95 1.43M529.48 238.43l4.03 1.46M544.01 240.62l-4.11 0.67M544.17 237.86l-3.69 0.6M550.05 241.49l-1.91 3.91M547.42 240.72l-2.02 4.13M545.02 239.48l-2.12 4.33M553.53 241.15l5.07 0.7M552.39 243.72l5.78 0.8M559.93 243.65l3.27 2.82M556.89 244.59l3.77 3.26M568.38 244.27l-0.5 5.62M565.6 245.01l-0.53 6.01M574.46 245.56l2.35 5.12M572.12 246.93l2 4.34M581.96 251.46l-4.07 2.02M581.43 248.71l-4.01 1.99M588.81 250.11l1.98 4.47M585.65 249.65l2.33 5.27M596.1 253.94l-3.95 3.43M594.14 252.06l-3.82 3.32M526.46 227.32l4.32 2.65M524.62 229.36l3.75 2.3M531.67 230.76l5.06 1.64M529.38 232.85l5.28 1.71M537.45 230.08l4.04 2.71M535.96 232.33l4.04 2.71M535.71 235.41l3.76 2.53M545.97 233.31l4.62 2.82M545.31 236.07l5 3.05M554.57 236.19l4.45 0.36M553.39 238.8l5.18 0.42M555.99 238.04l4.05 1.95M555.03 240.58l4.54 2.18M568.57 242.45l-4.18 2.77M567.41 239.99l-4.83 3.21M574.67 245.19l-4.03 0.76M574.2 242.53l-4.9 0.92M584.53 243.9l-1.63 3.95M582.3 242.23l-1.77 4.29M586.99 246.83l-3.48 3.76M584.97 245.04l-3.6 3.88M593.54 249.63l-3.06 2.38M592.12 247.31l-3.32 2.58M598.86 249.69l1.44 4.96M596.09 249.84l1.45 5M535.03 224.89l2.47 3.04M532.27 225.78l2.68 3.29M540.59 229.69l-3.9 3.18M539.63 227l-3.9 3.18M536.68 225.91l-3.45 2.81M545.6 228.74l4.1 2.1M543.89 230.9l4.06 2.08M542.89 233.42l4.29 2.2M555.37 231.73l-1.25 4.57M552.88 230.62l-1.31 4.79M559.53 236.11l-4.66 0.14M557.87 233.46l-4.26 0.12M568.97 239.03l-5.08 0.11M568.79 236.33l-4.35 0.09M568.09 233.64l-5.04 0.1M569.65 235.46l3.35 3.68M567.92 237.57l4.1 4.5M578.08 237.61l2.95 5.02M575.5 238.54l2.7 4.59M587.05 239l1.92 5.11M584.17 239.04l1.87 4.96M596.69 245.42l-5.23 0.15M596.76 242.72l-5.34 0.15M601.82 244.53l0.73 4.02M599.02 244.23l0.89 4.87M596.32 244.48l0.84 4.61M608.05 247.28l-3.56 3.71M605.77 245.77l-3.33 3.48M538.97 222.3l1.91 4.2M535.96 222.19l2.17 4.78M549.97 225.91l-4.7 1.63M548.77 223.47l-4.26 1.47M554.71 226.77l-2.18 3.87M552.64 224.94l-2.66 4.73M549.91 224.29l-2.37 4.22M559.53 225.61l3.99 2.03M558.56 228.14l3.88 1.97M557.7 230.74l3.65 1.86M564.99 229.49l-1.4 4.77M562.5 228.4l-1.56 5.33M573.87 234.47l-4.39 3.35M572.61 232.03l-3.76 2.87M570.93 229.92l-4.62 3.53M578.01 231.19l3.5 3.26M576.58 233.55l3.22 3M573.95 234.79l2.96 2.75M584.05 235.41l1.69 4.85M581.07 235.06l1.63 4.68M592.93 236.23l1.13 4.14M590.31 236.89l1.23 4.48M599.34 238.82l2.9 3.83M596.67 239.77l2.87 3.79M605.08 243.81l-3.2 3.13M604 241.08l-3.7 3.63M601.83 239.44l-3.61 3.54M607.68 242.2l4.31 0.68M606.52 244.75l4.76 0.76M606.87 247.54l4.07 0.65M544.09 218.53l1.81 4.32M541.69 219.8l1.89 4.53M555.27 220.75l-3.28 3.74M553.22 218.98l-3.07 3.5M561.84 225.09l-4.29 3.07M560.29 222.88l-3.81 2.73M559.05 220.45l-4.41 3.15M563.52 222.56l4.94 0.22M563.1 225.25l5.14 0.23M562.63 227.93l4.63 0.21M570.06 226.14l3.48 2.65M568.17 228.1l3.59 2.73M578.58 226l1.19 4.92M575.99 226.76l1.36 5.62M588.78 229.75l-3.73 4.53M586.85 227.84l-3.7 4.49M590.57 230.37l1.75 4.42M587.89 230.94l1.55 3.91M585.34 231.82l1.62 4.08M597.59 234.97l-2.66 4.93M595.66 232.87l-2.56 4.74M603.07 235.83l4.43 1.33M603.17 238.68l4.06 1.22M616.19 240.72l-5.34 1.66M613.82 238.63l-5.04 1.57M613.23 235.99l-5.41 1.68M615.76 239.63l4.44 2.8M614.53 242.05l4.1 2.58M553.01 217.38l-4.11 2.32M551.49 215.13l-3.79 2.13M555.01 215.56l4.02 2.28M553.87 218.02l3.7 2.1M553.38 220.85l3.99 2.26M560.64 218.08l5.6 1.72M560.03 220.72l5.48 1.68M570.07 219.79l1.3 3.72M567.55 220.78l1.33 3.8M564.69 220.78l1.5 4.31M575.72 222.05l5.55 1.3M576 224.89l5.79 1.35M586.29 226.65l-4.74 1.2M587.02 223.68l-4.74 1.2M590.99 225.76l3.72 2.77M588.1 226.97l4.46 3.32M593.93 227.94l4.05 0.81M593.6 230.62l4.56 0.91M593.04 233.27l4.41 0.88M604.33 228.17l3.97 4.21M602.26 229.92l4.02 4.26M600.19 231.65l3.71 3.94M613 231.1l2.65 3.62M610.62 232.43l3.08 4.21M607.75 233.08l3.11 4.26M619.58 238.01l-5.39 1.6M618.26 235.59l-5.34 1.59M616.75 233.22l-5.01 1.49M625.32 235.99l-2.58 4.3M623.46 233.84l-2.5 4.18M559.21 212.79l-4.38 1.59M558.43 210.2l-4.3 1.56M564.2 216.53l-4.65 0.62M563.07 213.95l-4.79 0.64M573.24 219.03l-3.23 2.49M571.91 216.64l-3.11 2.4M571.07 213.88l-3.84 2.96M576.4 215.41l2.63 5.25M574.11 216.86l2.29 4.57M583.21 219.82l-0.21 4.63M580.54 219.08l-0.22 4.91M592.16 223.82l-4.15 1.24M591.55 221.19l-5.05 1.51M596.79 222.87l-1.27 3.64M594.03 222.59l-1.5 4.3M604.38 227.63l-3.67 3.73M602.2 226l-3.48 3.54M600.69 223.68l-3.81 3.88M611 227.02l1.96 4.17M608.01 227.01l1.97 4.2M612.97 229.55l4.89 0.96M612.27 232.17l4.88 0.96M623.38 229.54l4.63 3.09M622.59 232.26l4.42 2.94M630.81 233.87l-3.93 2.98M628.83 231.98l-3.87 2.94M562.16 208.26l2.92 3.1M559.56 209.44l3.16 3.36M572.52 210.49l-3.11 4.96M570.46 208.7l-2.63 4.2M576.77 209.44l1.59 5.11M574.1 209.94l1.72 5.52M571.83 211.73l1.47 4.7M582.51 213.06l2.8 3.58M580.67 215.09l3.07 3.93M590.49 215.19l-1.3 5.53M587.98 214.08l-1.14 4.81M592.9 217.07l3.4 4.18M591.05 219.07l3.02 3.71M602.17 218.47l3.42 4M599.97 220.05l3.72 4.35M610.28 224.34l-3.96 1.45M609.26 221.84l-4.2 1.54M614.87 221.59l0.86 4.97M612.33 222.77l0.85 4.91M609.58 222.71l0.93 5.4M622.23 225.64l-0.82 4.55M619.61 224.93l-0.75 4.2M628.37 226.93l3.26 3.79M626.63 229.04l3.05 3.55M640.13 231.53l-5.21 0.64M639.17 228.93l-4.97 0.61M569.02 202.26l4.59 3.36M567.09 204.2l4.54 3.33M566.6 207.19l3.85 2.82M579.42 207.47l-2.1 4.41M577.12 206.03l-2.24 4.69M574.03 206.23l-2.08 4.36M584.73 208.09l0.63 4.45M582.06 208.45l0.65 4.57M594.01 213.4l-4.13 2.1M593.06 210.85l-3.94 2.01M591.24 208.75l-4.62 2.35M597.78 213.07l-2.87 3.21M596.47 210.49l-2.66 2.98M603.18 214.88l-4.35 2.89M600.67 213.31l-3.62 2.41M611.81 214.75l0.25 5.08M609.12 215.03l0.29 5.9M606.4 214.75l0.29 5.89M617.28 222.17l-4.52 1.15M616.16 219.66l-4.5 1.15M616.08 216.9l-4.89 1.25M623.97 220.46l-2.24 4.41M621.71 218.94l-2.38 4.7M619.27 217.78l-2.61 5.14M628.33 224.34l-3.16 3.25M627.48 221.33l-3.89 4.01M629.46 222.81l3.87 3.65M628.29 225.42l3.75 3.53M644.5 227.87l-3.8 1.47M643.94 225.19l-3.75 1.45M574.11 199.72l1.46 4.36M571.58 200.7l1.69 5.04M585.01 203.31l-1.55 4.2M582.41 202.55l-1.84 4.98M585.54 204.86l2.8 3.92M583.77 207.03l2.25 3.16M595.25 206.1l0.71 5.07M592.57 206.44l0.8 5.72M599.1 207.91l4.95 2.24M598.53 210.62l4.56 2.06M603.43 210.86l5.31 2.97M602.31 213.33l5.21 2.91M612.55 211.1l3.51 3.51M610.55 212.93l3.72 3.72M616.23 213.78l4.79 2.66M615.04 216.21l4.7 2.61M628.94 218.74l-2.23 4.39M626.79 217.01l-2.16 4.25M624.27 216l-2.11 4.13M632.06 217.97l4.33 1.69M631.52 220.65l4.45 1.74M638.8 221.09l5.02 1.49M638.5 223.82l4.47 1.32M647.41 222.7l-0.48 4.23M644.71 222.52l-0.58 5.11M582.46 198.48l-3.56 2.13M581.02 196.2l-3.79 2.26M587.39 202.7l-3.59 2.92M586.29 200.12l-3.52 2.87M583.66 198.77l-3.76 3.07M591.05 201.44l4.86 1M589.79 203.94l4.47 0.92M601.15 203.02l-2.83 5.02M597.98 203.15l-2.39 4.25M611.41 206.94l-4.91 2.44M610.71 204.27l-4.7 2.34M611.47 207.02l0.83 4.21M608.77 207.31l0.82 4.2M618.34 208.7l4.13 0.8M618.69 211.52l4.21 0.81M628.94 214.58l-4.29 0.51M629.58 211.79l-3.96 0.47M628.99 211.76l3.78 4.17M627.81 214.47l3.23 3.55M640.23 213.46l2.88 3.02M637.6 214.61l2.85 2.99M636.41 217.28l2.89 3.03M647.23 218.33l-4.12 2.92M645.53 216.23l-3.95 2.8M648.02 219.75l5.27 0.6M646.95 222.34l5.14 0.58M588.79 196.68l-4.09 0.32M587.8 194.04l-4.24 0.33M591.26 196.54l4.48 2.37M590.02 198.94l4.2 2.22M601.4 202.28l-4.4 1.27M600.73 199.67l-4.09 1.18M600.3 196.98l-4.46 1.29M603.43 199.3l4.63 3.91M602.28 201.86l3.8 3.2M608.73 201.04l2.95 3.79M606.41 202.46l3.12 4.01M621.72 204.2l-1.18 4.42M619.09 203.57l-1.26 4.72M625.75 209.87l-4.9 1.63M624.95 207.29l-4.36 1.45M623.55 204.91l-4.21 1.4M633.07 208.21l-2.47 3.82M631.29 205.99l-2.88 4.46M641.62 211.98l-6.08 0.8M640.2 209.45l-5.38 0.71M646.43 210.66l0.07 4.05M643.73 210.86l0.07 3.88M653.77 218.49l-5.12 0.94M653.36 215.82l-5.18 0.95M652.2 213.29l-5.03 0.92M658.66 215.51l-2.18 5.05M656.22 214.35l-2.33 5.42M592.18 191.76l-2.76 3.9M589.22 191.26l-2.39 3.37M595.42 193.38l4.46 1.05M594.77 196l4.04 0.95M606.56 193.28l2.88 3.12M604.39 194.91l3.47 3.76M602.7 197.07l3.3 3.58M608.79 197.11l4.8 0.25M608.25 199.78l4.92 0.26M618.83 197.54l3.93 3.49M616.26 198.87l4.37 3.88M626.94 198.69l-0.37 5.43M624.21 199.06l-0.34 4.93M634.63 204.81l-5.77 1.84M634.64 201.98l-4.78 1.52M641.7 205.89l-2.73 4.27M638.98 205.12l-2.57 4.01M636.82 203.49l-2.59 4.04M647.84 205.81l0.58 4.79M645.18 206.28l0.57 4.76M652.28 209.45l-2.13 3.9M649.76 208.43l-2.11 3.87M647.72 206.53l-2.24 4.1M659.97 208.83l0.83 4.93M657.21 208.71l0.94 5.57M654.56 209.24l0.82 4.85M666.31 210.74l0.48 4.49M663.66 211.27l0.43 4.02M660.96 211.42l0.41 3.84M601.25 188.51l-2.9 3.79M599.02 186.98l-2.48 3.25M607.92 188.15l0.42 4.95M605.28 188.91l0.45 5.25M610.86 191.66l2.17 3.91M608.6 193.16l2.24 4.04M621.08 197.01l-4.2 2.16M619.1 194.99l-3.99 2.05M619.16 191.93l-4.15 2.14M626.24 193.68l2.67 4.42M624.02 195.23l2.66 4.4M630.97 200.15l-5.09 1.49M630.14 197.58l-5.37 1.57M634.99 199.38l4.72 2.82M633.68 201.75l4.9 2.93M647.77 201.77l-5.23 2.79M645.51 199.92l-4.96 2.65M651.74 203.46l-0.82 5.39M649.04 203.27l-0.88 5.85M652.14 204.13l4.92 1.92M651.96 206.96l5.07 1.98M664.36 206.29l1.87 4.65M661.8 207.17l1.99 4.93M658.92 207.23l2.04 5.07M671.93 212.74l-3.25 1.93M669.94 210.78l-3.42 2.04M669.71 207.78l-3.68 2.19M607.39 185.36l-4.58 3.47M604.57 184.11l-4.16 3.15M603.85 181.27l-4.42 3.34M609.52 184.35l2.99 5.03M606.77 185.01l3.07 5.15M605.09 187.47l2.76 4.63M614.75 186.05l5.33 0.29M613.93 188.71l5.39 0.3M614.03 191.42l4.4 0.24M628.94 193.79l-4.45 0.63M628.68 191.1l-4.69 0.67M628.34 188.42l-4.37 0.62M628.8 189.45l3.33 2.69M627.12 191.56l3.92 3.17M626.13 194.23l3.52 2.85M637.03 191.82l4.14 3.04M636.17 194.54l3.91 2.88M634.78 196.87l4.1 3.02M644.15 197.35l-4.89 2.13M643.28 194.79l-4.62 2.01M650.85 197.09l3.36 2.92M649.27 199.29l3.47 3.01M657.9 203.29l-4.21 2.32M657.7 200.31l-4.33 2.38M656.28 198.02l-3.93 2.16M662.58 201.05l1.24 5.18M659.79 200.99l1.29 5.39M671.2 204.4l0.36 4.92M668.46 203.88l0.35 4.81M665.76 204.07l0.38 5.22M675.92 203.24l2.24 5.01M673.23 203.83l2.37 5.29M613.4 181.18l-1.87 4M610.8 180.38l-1.97 4.21M615 182.68l5 0.19M615.14 185.39l4.12 0.16M622.01 183.82l1.12 5.56M619.48 184.91l1.04 5.15M630.23 187.07l0.91 4.32M627.58 187.55l0.89 4.23M633.2 187.71l2.2 3.06M631.39 189.81l2.53 3.53M644.76 193.45l-4.13 0.4M645.28 190.68l-4.24 0.41M650.93 195.63l-4.05 1.31M649.07 193.4l-3.77 1.22M656.61 192.94l0.7 3.65M653.97 193.47l0.81 4.23M651.32 194.02l0.72 3.77M662.22 195.06l3.89 2.08M660.86 197.39l3.25 1.74M659.82 199.9l3.58 1.92M670.03 197.66l1.6 5.43M667.21 197.63l1.52 5.15M679.01 204.39l-4.67 0.14M678.56 201.7l-4.44 0.13M678.95 198.99l-4.66 0.13M685.42 201.9l0.11 4.42M682.72 202.19l0.11 4.44" fill="none" stroke="#444" stroke-width="0.45"/>
<path d="M401.71 266.49h0.8M408.02 267.04h0.8M418.07 271.47h0.8M438.7 276.92h0.8M440.94 278.15h0.8M450.4 279.5h0.8M469.16 286.39h0.8M483.03 289h0.8M505.21 294.4h0.8M410.83 264.95h0.8M419.96 264.61h0.8M434.15 272.15h0.8M445.75 274.16h0.8M511.28 292.55h0.8M516.67 296.62h0.8M522.28 294.28h0.8M422.91 260.78h0.8M440.86 264.72h0.8M448.06 270.89h0.8M458.75 274.98h0.8M474.12 276.2h0.8M487.46 281.06h0.8M517.64 290.56h0.8M420.79 258.38h0.8M471.28 269.47h0.8M504.06 278.27h0.8M427.46 255.73h0.8M444.12 258.8h0.8M467.8 264.38h0.8M472.64 267.09h0.8M487.38 272.33h0.8M522.23 277.77h0.8M526.41 281.4h0.8M476.21 261.35h0.8M486.62 265.51h0.8M492.48 266.4h0.8M496.81 269.21h0.8M533.44 280.83h0.8M441.34 245.23h0.8M477.47 259.57h0.8M490.03 258.45h0.8M513.69 264.9h0.8M522 268.49h0.8M528.93 273.48h0.8M543.18 277.22h0.8M463.21 248.19h0.8M488.81 251.92h0.8M503.61 259.58h0.8M500.56 252.46h0.8M557.93 270.55h0.8M457.54 237.16h0.8M490 243.78h0.8M495.83 244.71h0.8M502.34 249.18h0.8M540.92 260.26h0.8M547.24 261.51h0.8M552.33 266.92h0.8M462.15 231.62h0.8M473.2 234.33h0.8M497.07 243.2h0.8M501.54 243.46h0.8M515.44 249.7h0.8M527.33 248.61h0.8M566.94 262.45h0.8M576.65 264.45h0.8M487.35 236.6h0.8M521.29 246.95h0.8M531.45 248.03h0.8M545.35 248.87h0.8M555.43 252.12h0.8M567.23 257.29h0.8M478.46 224.39h0.8M496.41 229.95h0.8M507.42 233.14h0.8M555.78 249.95h0.8M484.13 223.04h0.8M533.74 236.59h0.8M543.39 242.33h0.8M558.36 246.34h0.8M529.43 230.51h0.8M560.55 238.84h0.8M572.2 243.6h0.8M588.75 247.34h0.8M537.71 231.15h0.8M554.78 235.86h0.8M566.23 238.28h0.8M565.65 232.07h0.8M588.44 239.67h0.8M557.95 226.49h0.8M610.3 239.66h0.8M612.89 241.45h0.8M561.86 218.72h0.8M581.74 225.09h0.8M590.41 227.61h0.8M609.27 234.88h0.8M587.63 223.12h0.8M595.41 224.36h0.8M603.92 226.2h0.8M557.56 210.41h0.8M606.13 222.55h0.8M620.53 225.43h0.8M572.51 209.69h0.8M581.09 210.14h0.8M630.28 226.19h0.8M576.07 202.52h0.8M584.33 209.16h0.8M588.15 209.48h0.8M605.22 210.24h0.8M613.01 212.56h0.8M629.34 218.99h0.8M637.1 224.34h0.8M592.91 204.03h0.8M619.93 211.88h0.8M628.75 213.36h0.8M639.83 216.86h0.8M647.66 218.8h0.8M644.59 222.3h0.8M637.96 210.04h0.8M643.65 213.32h0.8M656.28 216h0.8M583.84 193.99h0.8M592.41 195.61h0.8M621.24 199.08h0.8M635.29 206.1h0.8M607.61 193h0.8M635.75 201.7h0.8M657.44 205.67h0.8M626.85 192.62h0.8M640.5 196.82h0.8M649.4 198.61h0.8M658.95 201.95h0.8M609 181.46h0.8M615.03 183.25h0.8M629.08 191.05h0.8M654.74 195h0.8M671.88 200.07h0.8" fill="none" stroke="#333" stroke-width="0.8"/>
<polygon points="393.6,199 517.6,235.2 517.6,237.8 393.6,201.6" fill="#fff" stroke="#333" stroke-width="0.5"/>
<polygon points="517.6,235.2 693,133.4 693,136 517.6,237.8" fill="#fff" stroke="#333" stroke-width="0.5"/>
<line x1="393.6" y1="199" x2="517.6" y2="235.2" stroke="#333" stroke-width="0.5"/>
<polygon points="393.6,199 570,97 693,133.4 517.6,235.2" fill="#fff" stroke="#444" stroke-width="0.7"/>
<line x1="397.43" y1="196.78" x2="521.41" y2="232.99" stroke="#959595" stroke-width="0.72"/>
<line x1="401.27" y1="194.57" x2="525.23" y2="230.77" stroke="#959595" stroke-width="0.72"/>
<line x1="405.1" y1="192.35" x2="529.04" y2="228.56" stroke="#959595" stroke-width="0.72"/>
<line x1="408.94" y1="190.13" x2="532.85" y2="226.35" stroke="#959595" stroke-width="0.72"/>
<line x1="412.77" y1="187.91" x2="536.67" y2="224.13" stroke="#959595" stroke-width="0.72"/>
<line x1="416.61" y1="185.7" x2="540.48" y2="221.92" stroke="#959595" stroke-width="0.72"/>
<line x1="420.44" y1="183.48" x2="544.29" y2="219.71" stroke="#959595" stroke-width="0.72"/>
<line x1="424.28" y1="181.26" x2="548.1" y2="217.5" stroke="#959595" stroke-width="0.72"/>
<line x1="428.11" y1="179.04" x2="551.92" y2="215.28" stroke="#959595" stroke-width="0.72"/>
<line x1="431.95" y1="176.83" x2="555.73" y2="213.07" stroke="#959595" stroke-width="0.72"/>
<line x1="435.78" y1="174.61" x2="559.54" y2="210.86" stroke="#959595" stroke-width="0.72"/>
<line x1="439.62" y1="172.39" x2="563.36" y2="208.64" stroke="#959595" stroke-width="0.72"/>
<line x1="443.45" y1="170.17" x2="567.17" y2="206.43" stroke="#959595" stroke-width="0.72"/>
<line x1="447.29" y1="167.96" x2="570.98" y2="204.22" stroke="#959595" stroke-width="0.72"/>
<line x1="451.12" y1="165.74" x2="574.8" y2="202" stroke="#959595" stroke-width="0.72"/>
<line x1="454.96" y1="163.52" x2="578.61" y2="199.79" stroke="#959595" stroke-width="0.72"/>
<line x1="458.79" y1="161.3" x2="582.42" y2="197.58" stroke="#959595" stroke-width="0.72"/>
<line x1="462.63" y1="159.09" x2="586.23" y2="195.37" stroke="#959595" stroke-width="0.72"/>
<line x1="466.46" y1="156.87" x2="590.05" y2="193.15" stroke="#959595" stroke-width="0.72"/>
<line x1="470.3" y1="154.65" x2="593.86" y2="190.94" stroke="#959595" stroke-width="0.72"/>
<line x1="474.13" y1="152.43" x2="597.67" y2="188.73" stroke="#959595" stroke-width="0.72"/>
<line x1="477.97" y1="150.22" x2="601.49" y2="186.51" stroke="#959595" stroke-width="0.72"/>
<line x1="481.8" y1="148" x2="605.3" y2="184.3" stroke="#959595" stroke-width="0.72"/>
<line x1="485.63" y1="145.78" x2="609.11" y2="182.09" stroke="#959595" stroke-width="0.72"/>
<line x1="489.47" y1="143.57" x2="612.93" y2="179.87" stroke="#959595" stroke-width="0.72"/>
<line x1="493.3" y1="141.35" x2="616.74" y2="177.66" stroke="#959595" stroke-width="0.72"/>
<line x1="497.14" y1="139.13" x2="620.55" y2="175.45" stroke="#959595" stroke-width="0.72"/>
<line x1="500.97" y1="136.91" x2="624.37" y2="173.23" stroke="#959595" stroke-width="0.72"/>
<line x1="504.81" y1="134.7" x2="628.18" y2="171.02" stroke="#959595" stroke-width="0.72"/>
<line x1="508.64" y1="132.48" x2="631.99" y2="168.81" stroke="#959595" stroke-width="0.72"/>
<line x1="512.48" y1="130.26" x2="635.8" y2="166.6" stroke="#959595" stroke-width="0.72"/>
<line x1="516.31" y1="128.04" x2="639.62" y2="164.38" stroke="#959595" stroke-width="0.72"/>
<line x1="520.15" y1="125.83" x2="643.43" y2="162.17" stroke="#959595" stroke-width="0.72"/>
<line x1="523.98" y1="123.61" x2="647.24" y2="159.96" stroke="#959595" stroke-width="0.72"/>
<line x1="527.82" y1="121.39" x2="651.06" y2="157.74" stroke="#959595" stroke-width="0.72"/>
<line x1="531.65" y1="119.17" x2="654.87" y2="155.53" stroke="#959595" stroke-width="0.72"/>
<line x1="535.49" y1="116.96" x2="658.68" y2="153.32" stroke="#959595" stroke-width="0.72"/>
<line x1="539.32" y1="114.74" x2="662.5" y2="151.1" stroke="#959595" stroke-width="0.72"/>
<line x1="543.16" y1="112.52" x2="666.31" y2="148.89" stroke="#959595" stroke-width="0.72"/>
<line x1="546.99" y1="110.3" x2="670.12" y2="146.68" stroke="#959595" stroke-width="0.72"/>
<line x1="550.83" y1="108.09" x2="673.93" y2="144.47" stroke="#959595" stroke-width="0.72"/>
<line x1="554.66" y1="105.87" x2="677.75" y2="142.25" stroke="#959595" stroke-width="0.72"/>
<line x1="558.5" y1="103.65" x2="681.56" y2="140.04" stroke="#959595" stroke-width="0.72"/>
<line x1="562.33" y1="101.43" x2="685.37" y2="137.83" stroke="#959595" stroke-width="0.72"/>
<line x1="566.17" y1="99.22" x2="689.19" y2="135.61" stroke="#959595" stroke-width="0.72"/>
<polygon points="330.5,479.2 360,496.23 363.9,493.98 334.4,476.95" fill="#fff" stroke="#333" stroke-width="0.5"/>
<polygon points="330.5,479.2 360,496.23 360,498.53 330.5,481.5" fill="#fff" stroke="#333" stroke-width="0.5"/>
<polygon points="360,496.23 363.9,493.98 363.9,496.28 360,498.53" fill="#fff" stroke="#333" stroke-width="0.5"/>
<polygon points="336.5,352.96 340.4,355.22 340.4,480.41 336.5,482.66" fill="#fff" stroke="#333" stroke-width="0.5"/>
<polygon points="334.3,351.69 336.5,352.96 336.5,482.66 334.3,481.39" fill="#fff" stroke="#333" stroke-width="0.5"/>
<polygon points="355.5,363.94 359.4,366.19 359.4,491.38 355.5,493.63" fill="#fff" stroke="#333" stroke-width="0.5"/>
<polygon points="353.3,362.66 355.5,363.94 355.5,493.63 353.3,492.36" fill="#fff" stroke="#333" stroke-width="0.5"/>
<polygon points="330.5,347.2 360,364.23 363.9,361.98 334.4,344.95" fill="#fff" stroke="#333" stroke-width="0.5"/>
<polygon points="330.5,347.2 360,364.23 360,366.53 330.5,349.5" fill="#fff" stroke="#333" stroke-width="0.5"/>
<polygon points="360,364.23 363.9,361.98 363.9,364.28 360,366.53" fill="#fff" stroke="#333" stroke-width="0.5"/>
<line x1="373.2" y1="372" x2="387.8" y2="380.5" stroke="#555" stroke-width="0.45"/>
<line x1="373.2" y1="372.53" x2="387.8" y2="381.03" stroke="#555" stroke-width="0.45"/>
<line x1="373.2" y1="373.07" x2="387.8" y2="381.57" stroke="#555" stroke-width="0.45"/>
<line x1="373.2" y1="373.6" x2="387.8" y2="382.1" stroke="#555" stroke-width="0.45"/>
<line x1="373.2" y1="504.2" x2="387.8" y2="512.7" stroke="#555" stroke-width="0.45"/>
<line x1="373.2" y1="504.73" x2="387.8" y2="513.23" stroke="#555" stroke-width="0.45"/>
<line x1="373.2" y1="505.27" x2="387.8" y2="513.77" stroke="#555" stroke-width="0.45"/>
<line x1="373.2" y1="505.8" x2="387.8" y2="514.3" stroke="#555" stroke-width="0.45"/>
<line x1="364.2" y1="361.3" x2="401.2" y2="382.7" stroke="#707070" stroke-width="0.55" stroke-dasharray="7 4"/>
<line x1="360.3" y1="498.5" x2="400.3" y2="521.6" stroke="#707070" stroke-width="0.55" stroke-dasharray="7 4"/>
<polygon points="401.2,519 408,522.9 408,661.4 401.2,657.5" fill="#fff" stroke="#333" stroke-width="0.5"/>
<polygon points="408,522.9 411.8,520.7 411.8,659.2 408,661.4" fill="#fff" stroke="#333" stroke-width="0.5"/>
<polygon points="401.2,519 405,516.8 411.8,520.7 408,522.9" fill="#fff" stroke="#333" stroke-width="0.5"/>
<line x1="405" y1="516.8" x2="405" y2="518.8" stroke="#333" stroke-width="0.4"/>
<polygon points="454.9,456 483.4,472.6 483.4,607.2 454.9,590.6" fill="#fff" stroke="#333" stroke-width="0.5"/>
<polygon points="483.4,472.6 484.7,471.9 484.7,606.5 483.4,607.2" fill="#fff" stroke="#333" stroke-width="0.45"/>
<polygon points="454.9,456 456.2,455.3 484.7,471.9 483.4,472.6" fill="#fff" stroke="#333" stroke-width="0.45"/>
<path d="M462.98 462.92l-3.66 3.09M461.89 460.31l-3.88 3.27M458.41 467.29l1.83 4.16M455.88 468.24l1.85 4.22M463.1 481.14l-5.42 0.04M463.75 478.44l-5.41 0.04M463.35 486.33l-5.38 0.71M463.32 483.61l-5.74 0.76M462.61 488.25l-2.24 4.89M459.92 487.66l-2 4.37M461.76 498.1l-5.26 2.16M460.55 495.68l-4.41 1.81M459.42 501.92l-0 4.11M456.72 501.84l-0 4.11M463.64 513.6l-5.45 0.11M463.31 510.91l-4.6 0.09M463.09 519.25l-3.56 3.68M461.36 517.16l-3.34 3.46M461.38 524.76l-5.6 2.03M459.84 522.44l-4.65 1.68M461.18 530.83l2.45 4.55M458.28 531.14l2.25 4.19M458.63 536.73l2.8 4.22M456.54 538.47l2.46 3.72M463.35 546.41l0.28 4.58M460.6 545.55l0.25 4.11M457.9 545.69l0.26 4.21M460.58 551.04l1.22 4.79M457.89 551.4l1.31 5.14M462.08 564.92l-4.72 0.12M461.42 562.23l-4.52 0.11M462.91 559.5l-5.41 0.13M463.5 565.94l-3.05 3.93M461.44 564.2l-3.51 4.52M459.42 562.4l-3.58 4.61M460.72 572.82l1.28 4.17M458.04 573.29l1.32 4.29M455.73 574.94l1.23 4.01M457.98 578.67l5.74 0.49M456.96 581.29l5.83 0.5M458.05 586.44l2.78 2.87M456.82 589.06l2.79 2.88M467.41 463.19l0.05 4.44M464.72 463.77l0.05 4.63M464.15 472.31l3.82 3.62M462.33 474.31l3.48 3.3M469.91 481.93l-5.08 0.19M470.6 479.2l-4.96 0.19M465.44 486.01l1 4.08M462.82 486.63l0.94 3.82M468.75 491.87l-0.24 5.52M466.03 492.28l-0.22 5.25M465.15 500.27l4.46 0.56M464.7 502.94l3.94 0.49M463.67 507.38l3.89 1.15M463 510l3.61 1.07M467.48 512.2l3.04 3.36M466.46 515.1l2.8 3.1M463.65 516.01l2.79 3.09M464.54 520.28l3.82 3.89M462.33 521.89l3.92 3.99M466.97 525.21l0.24 4.73M464.34 526.58l0.27 5.33M469.3 535.57l-3.6 2.58M468.02 533.17l-3.57 2.57M469.46 544.31l-4.43 0.3M468.65 541.66l-4.13 0.28M464.62 547.78l3.68 1.42M464.66 550.69l3.62 1.39M470.08 558.61l-4.19 4.22M468.09 556.78l-4.17 4.2M465.95 555.11l-3.54 3.56M467.63 561.01l1.96 4.68M465.04 561.81l1.75 4.18M462.09 561.76l1.88 4.49M463.37 566.3l4.82 1.89M461.38 568.41l5.25 2.06M461.08 571.2l4.66 1.83M469.34 577.94l-3.61 4.06M467.52 575.93l-3.13 3.52M468.78 587.65l-5.23 0.27M468.41 584.97l-4.82 0.25M470.07 591l-2.6 4.39M467.98 589.23l-2.88 4.86M471.67 467.95l2.68 3.04M469.76 469.87l3.06 3.47M473.17 476.75l2.36 4.71M470.61 477.65l2.66 5.31M471.7 482.62l1.65 3.98M469.56 484.51l1.83 4.4M475.2 491.66l-3.49 2.85M473.71 489.39l-3.72 3.04M472.37 487l-3.24 2.64M471.86 496.09l3.68 2.68M470.14 498.18l3.25 2.36M474.33 503.94l-0.16 4.97M471.59 505.1l-0.13 4M472.49 509.31l2.49 4.32M470.9 511.97l2.22 3.85M470.55 519.64l4.39 0.76M469.93 522.28l4.7 0.81M472.87 530.13l-4.33 0.29M473.6 527.37l-4.46 0.3M474.1 524.63l-4.33 0.29M475.69 532.96l-2.52 3.43M473.69 531.11l-2.53 3.44M471.87 529.03l-2.79 3.8M472.25 538.15l3.53 4.11M469.78 539.43l3.63 4.22M470.25 545.43l4.3 1.61M468.57 547.69l4.11 1.54M473.76 552.36l1.18 3.88M471.19 553.17l1.37 4.49M469.5 557.45l4.43 0.59M469.58 560.18l4.98 0.66M468.63 562.78l4.93 0.66M474.11 565.7l-0.75 4.67M471.57 564.44l-0.78 4.88M477.58 576.05l-2.9 4.83M475.34 574.54l-2.71 4.52M472.64 573.79l-2.94 4.9M469.17 578.62l5.23 0.55M469.13 581.33l5.11 0.54M468.61 583.99l5.54 0.58M475.01 588.75l-0.44 4.25M472.46 587.09l-0.44 4.25M471.23 591.66l2.52 3.3M468.3 592.28l3.06 4.01M477.75 474.78l4.72 0.08M478.56 477.5l5.25 0.09M482.45 480.62l-2.95 4.07M479.95 479.47l-2.57 3.56M476.55 486.01l4.28 0.62M475.4 488.58l4.41 0.64M479.46 493.77l4.21 3.26M476.92 495.22l4.06 3.15M476.42 500.89l4.08 3.16M475.73 503.77l3.81 2.95M479.61 506.67l-1.44 4.76M477.25 505.16l-1.41 4.69M479.64 514.52l4.82 2.85M478.43 516.94l4.57 2.7M476.6 518.99l5.1 3.01M477.77 519.51l3.35 2.8M476.56 522.02l3.36 2.8M480.47 529.04l-0.05 3.89M477.79 527.32l-0.05 4.41M481.99 535.8l-4.28 3.52M480.54 533.5l-3.77 3.1M477.4 538.61l3.77 3.83M476.57 541.61l3.46 3.52M473.85 542.7l3.51 3.57M475.38 548.25l4.84 0M475.71 550.95l4.71 0M478.8 556.35l0.74 4.87M475.86 554.91l0.83 5.5M480.32 562.89l2.95 4.41M478.01 564.29l2.85 4.26M482.92 571.33l-3.57 2.14M480.59 569.58l-4.15 2.49M482.13 575.22l-3.13 4.77M479.41 574.45l-3.28 4.99M481.91 583.45l-3.32 4.2M479.89 581.65l-3.24 4.11M477.55 580.25l-3.56 4.52M476.61 589.04l4.31 0.66M475.57 591.61l4.81 0.74M483.04 597.74l-3.44 4.05M480.95 596.03l-3.63 4.27" fill="none" stroke="#444" stroke-width="0.45"/>
<path d="M461.61 494.25h0.8M455.9 499.94h0.8M461.46 568.43h0.8M465.54 516.22h0.8M463.33 570.66h0.8M465.06 582.66h0.8M469.73 467.8h0.8M471.4 505.14h0.8M470.05 526.56h0.8M471.32 534.77h0.8M471.76 556.59h0.8M472.18 558.64h0.8M475.16 571.25h0.8M473.3 582.62h0.8M470.31 589.33h0.8M481.6 482.61h0.8M479.04 490.22h0.8M477.69 508.83h0.8M477.27 515.9h0.8M480.72 540.92h0.8M479.22 588.53h0.8M479.78 598.52h0.8" fill="none" stroke="#333" stroke-width="0.8"/>
<polygon points="417.6,477.8 446.9,494.6 446.9,628.6 417.6,611.8" fill="#fff" stroke="#333" stroke-width="0.5"/>
<polygon points="446.9,494.6 448.7,493.6 448.7,627.6 446.9,628.6" fill="#fff" stroke="#333" stroke-width="0.45"/>
<polygon points="417.6,477.8 419.4,476.8 448.7,493.6 446.9,494.6" fill="#fff" stroke="#333" stroke-width="0.45"/>
<line x1="417.9" y1="477.97" x2="417.9" y2="611.97" stroke="#4a4a4a" stroke-width="0.45"/>
<line x1="419" y1="478.6" x2="419" y2="612.6" stroke="#999" stroke-width="0.35"/>
<line x1="421.25" y1="479.89" x2="421.25" y2="613.89" stroke="#4a4a4a" stroke-width="0.45"/>
<line x1="422.35" y1="480.52" x2="422.35" y2="614.52" stroke="#999" stroke-width="0.35"/>
<line x1="424.6" y1="481.81" x2="424.6" y2="615.81" stroke="#4a4a4a" stroke-width="0.45"/>
<line x1="425.7" y1="482.44" x2="425.7" y2="616.44" stroke="#999" stroke-width="0.35"/>
<line x1="427.95" y1="483.73" x2="427.95" y2="617.73" stroke="#4a4a4a" stroke-width="0.45"/>
<line x1="429.05" y1="484.37" x2="429.05" y2="618.37" stroke="#999" stroke-width="0.35"/>
<line x1="431.3" y1="485.66" x2="431.3" y2="619.66" stroke="#4a4a4a" stroke-width="0.45"/>
<line x1="432.4" y1="486.29" x2="432.4" y2="620.29" stroke="#999" stroke-width="0.35"/>
<line x1="434.65" y1="487.58" x2="434.65" y2="621.58" stroke="#4a4a4a" stroke-width="0.45"/>
<line x1="435.75" y1="488.21" x2="435.75" y2="622.21" stroke="#999" stroke-width="0.35"/>
<line x1="438" y1="489.5" x2="438" y2="623.5" stroke="#4a4a4a" stroke-width="0.45"/>
<line x1="439.1" y1="490.13" x2="439.1" y2="624.13" stroke="#999" stroke-width="0.35"/>
<line x1="441.35" y1="491.42" x2="441.35" y2="625.42" stroke="#4a4a4a" stroke-width="0.45"/>
<line x1="442.45" y1="492.05" x2="442.45" y2="626.05" stroke="#999" stroke-width="0.35"/>
<line x1="444.7" y1="493.34" x2="444.7" y2="627.34" stroke="#4a4a4a" stroke-width="0.45"/>
<line x1="445.8" y1="493.97" x2="445.8" y2="627.97" stroke="#999" stroke-width="0.35"/>
<line x1="418.5" y1="477" x2="455.5" y2="455.6" stroke="#707070" stroke-width="0.55" stroke-dasharray="7 4"/>
<line x1="447.5" y1="494" x2="456" y2="489.2" stroke="#707070" stroke-width="0.55" stroke-dasharray="7 4"/>
<line x1="456.5" y1="455" x2="468.5" y2="448.1" stroke="#707070" stroke-width="0.55" stroke-dasharray="7 4"/>
<line x1="484.8" y1="471.8" x2="495.5" y2="465.6" stroke="#707070" stroke-width="0.55" stroke-dasharray="7 4"/>
<line x1="449" y1="627.8" x2="497.5" y2="599.8" stroke="#707070" stroke-width="0.55" stroke-dasharray="7 4"/>
<line x1="485" y1="606.4" x2="497.5" y2="599.2" stroke="#707070" stroke-width="0.55" stroke-dasharray="7 4"/>
<line x1="393.6" y1="203.5" x2="393.6" y2="267.5" stroke="#707070" stroke-width="0.55" stroke-dasharray="7 4"/>
<line x1="393.6" y1="273" x2="393.6" y2="305" stroke="#707070" stroke-width="0.55" stroke-dasharray="7 4"/>
<line x1="517.6" y1="240" x2="517.6" y2="340" stroke="#707070" stroke-width="0.55" stroke-dasharray="7 4"/>
<line x1="693.3" y1="138.5" x2="693.3" y2="201" stroke="#707070" stroke-width="0.55" stroke-dasharray="7 4"/>
<line x1="693.3" y1="206" x2="693.3" y2="242" stroke="#707070" stroke-width="0.55" stroke-dasharray="7 4"/>
<line x1="401.4" y1="316" x2="401.4" y2="385" stroke="#707070" stroke-width="0.55" stroke-dasharray="7 4"/>
<line x1="520.6" y1="384" x2="520.6" y2="446" stroke="#707070" stroke-width="0.55" stroke-dasharray="7 4"/>
<line x1="688.4" y1="284" x2="688.4" y2="349" stroke="#707070" stroke-width="0.55" stroke-dasharray="7 4"/>
<rect x="0" y="51.6" width="1030" height="2" fill="#1a1a1a"/>
<text class="s t" x="314.3" y="41.3" font-size="31.6" textLength="274" lengthAdjust="spacingAndGlyphs">“ADD-IT-YOURSELF”</text>
<text class="s t" x="603.6" y="41.3" font-size="31.6" textLength="112.4" lengthAdjust="spacingAndGlyphs">SYSTEM</text>
<text class="s" x="68.1" y="218.8" font-size="16" textLength="118.1" lengthAdjust="spacingAndGlyphs">PRE-ASSEMBLED</text>
<text class="s" x="141.5" y="237.2" font-size="16" textLength="44.2" lengthAdjust="spacingAndGlyphs">TRUSS</text>
<text class="f" x="125.9" y="258.5" font-size="15" textLength="64" lengthAdjust="spacingAndGlyphs">3/12 slope</text>
<text class="s" x="68.1" y="304" font-size="16" textLength="118.1" lengthAdjust="spacingAndGlyphs">PRE-ASSEMBLED</text>
<text class="s" x="109.7" y="322.4" font-size="16" textLength="75.9" lengthAdjust="spacingAndGlyphs">PANEL (2’)</text>
<text class="f" x="68.1" y="343.7" font-size="15" textLength="121.3" lengthAdjust="spacingAndGlyphs">2x4 studs @ 16” o.c.</text>
<text class="s" x="42" y="533.2" font-size="16" textLength="144.3" lengthAdjust="spacingAndGlyphs">STEEL CONNECTOR</text>
<text class="s" x="135.8" y="551.5" font-size="16" textLength="50.5" lengthAdjust="spacingAndGlyphs">PLATES</text>
<text class="f" x="56.3" y="570.1" font-size="15" textLength="130.1" lengthAdjust="spacingAndGlyphs">Easily disassemble and</text>
<text class="f" x="155.4" y="588" font-size="15" textLength="31" lengthAdjust="spacingAndGlyphs">reuse</text>
<text class="s" x="83.6" y="624" font-size="16" textLength="102.7" lengthAdjust="spacingAndGlyphs">WATERPROOF</text>
<text class="s" x="132.5" y="642.5" font-size="16" textLength="53.8" lengthAdjust="spacingAndGlyphs">JOINTS</text>
<text class="s" x="836.3" y="86.8" font-size="16" textLength="133.5" lengthAdjust="spacingAndGlyphs">RECYCLED SIDING</text>
<text class="s" x="836.3" y="104.9" font-size="16" textLength="72.4" lengthAdjust="spacingAndGlyphs">MATERIAL</text>
<text class="s" x="836.3" y="152.5" font-size="16" textLength="92" lengthAdjust="spacingAndGlyphs">FIBERBOARD</text>
<text class="s" x="836.3" y="170.7" font-size="16" textLength="93.4" lengthAdjust="spacingAndGlyphs">INSULATION</text>
<text class="s b" x="836.3" y="514" font-size="16" textLength="97.2" lengthAdjust="spacingAndGlyphs">DOOR PANEL</text>
<text class="f" x="838.3" y="535" font-size="15" textLength="118.7" lengthAdjust="spacingAndGlyphs">Double-width (4’) to</text>
<text class="f" x="838.3" y="553" font-size="15" textLength="150.2" lengthAdjust="spacingAndGlyphs">accomodate standard door</text>
<text class="f" x="838.3" y="571" font-size="15" textLength="32" lengthAdjust="spacingAndGlyphs">frame</text>
<text class="s" x="837.5" y="612.2" font-size="16" textLength="123.7" lengthAdjust="spacingAndGlyphs">WINDOW PANEL</text>
<polyline points="191.7,234.4 331,234.4 393,306" fill="none" stroke="#111" stroke-width="1.5" stroke-linejoin="miter"/>
<circle cx="393" cy="306.2" r="1.8" fill="#111"/>
<polyline points="191.7,317.2 288.7,317.2 334.3,370.2" fill="none" stroke="#111" stroke-width="1.5" stroke-linejoin="miter"/>
<circle cx="334.3" cy="370.2" r="1.8" fill="#111"/>
<polyline points="191.7,544.9 352.8,544.9 381,512.4" fill="none" stroke="#111" stroke-width="1.5" stroke-linejoin="miter"/>
<circle cx="381" cy="512.4" r="1.8" fill="#111"/>
<polyline points="191.7,637.4 352.8,637.4 400.5,582.4" fill="none" stroke="#111" stroke-width="1.5" stroke-linejoin="miter"/>
<circle cx="400.5" cy="582.4" r="1.8" fill="#111"/>
<polyline points="829.5,99 711.6,99 677.2,138.2" fill="none" stroke="#111" stroke-width="1.5" stroke-linejoin="miter"/>
<circle cx="677.2" cy="138.2" r="1.8" fill="#111"/>
<polyline points="829.5,166.4 711.6,166.4 677.2,205.4" fill="none" stroke="#111" stroke-width="1.5" stroke-linejoin="miter"/>
<circle cx="677.2" cy="205.4" r="1.8" fill="#111"/>
<polyline points="829.5,508.9 687,508.9 646,461.6" fill="none" stroke="#111" stroke-width="1.5" stroke-linejoin="miter"/>
<circle cx="646" cy="461.6" r="1.8" fill="#111"/>
<polyline points="829.5,606.4 627,606.4 569.6,539.6" fill="none" stroke="#111" stroke-width="1.5" stroke-linejoin="miter"/>
<circle cx="569.6" cy="539.6" r="1.8" fill="#111"/>
</svg>
</body></html>
